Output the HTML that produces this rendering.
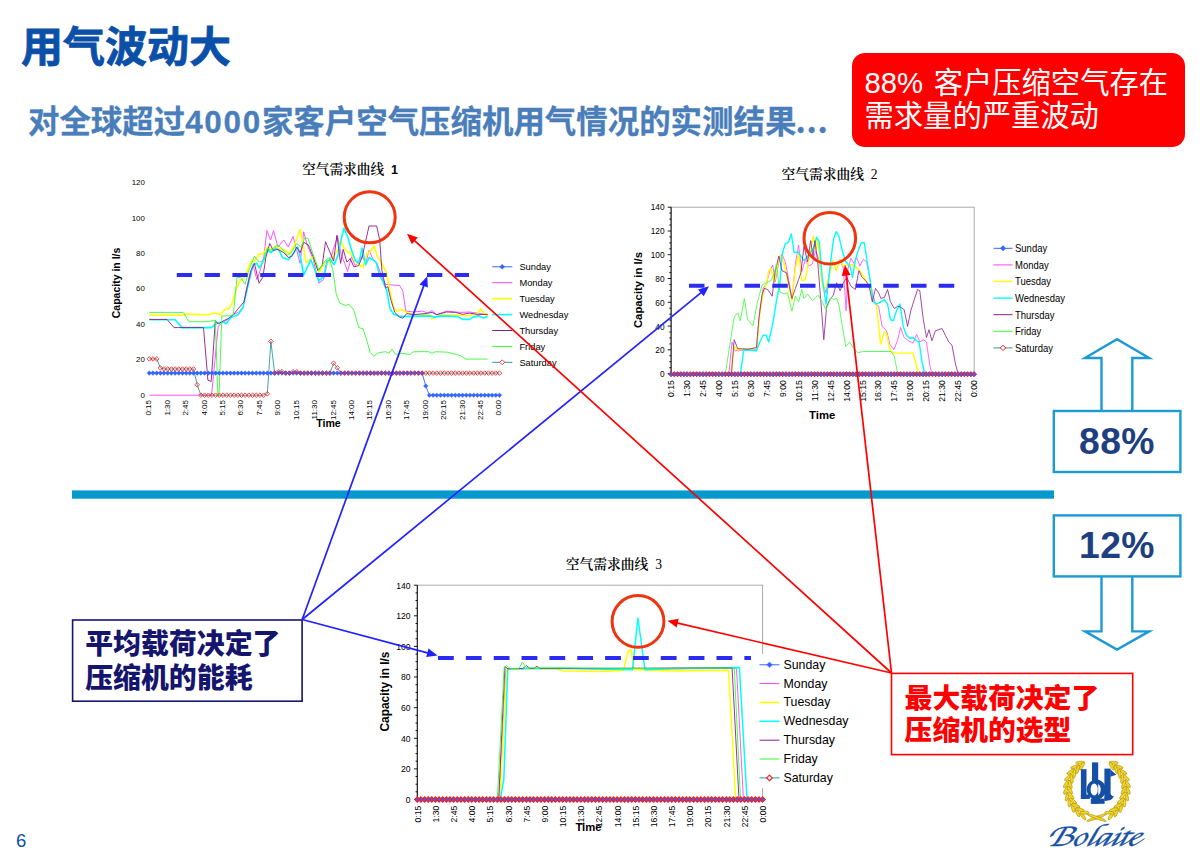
<!DOCTYPE html>
<html lang="zh"><head><meta charset="utf-8"><title>用气波动大</title>
<style>
html,body{margin:0;padding:0;background:#fff}
svg{display:block}
text{font-family:"Liberation Sans","Noto Sans CJK SC",sans-serif;fill:#000}
.cj{font-family:"Liberation Sans","Noto Sans CJK SC",sans-serif}
.sf{font-family:"Liberation Serif","Noto Serif CJK SC",serif}
.b{font-weight:bold}
</style></head><body>
<svg width="1200" height="856" viewBox="0 0 1200 856">
<rect width="1200" height="856" fill="#fff"/>
<text class="cj b" x="21" y="62.4" font-size="42" style="fill:#0B50A8;stroke:#0B50A8;stroke-width:0.8px">用气波动大</text>
<text class="cj b" x="28" y="132.8" font-size="31.45" style="fill:#4A7EBB;stroke:#4A7EBB;stroke-width:0.3px">对全球超过<tspan letter-spacing="1.7">4000</tspan>家客户空气压缩机用气情况的实测结果<tspan style="font-family:'Noto Sans CJK SC',sans-serif" letter-spacing="0.8" dx="-1">...</tspan></text>
<rect x="852" y="53" width="333" height="94" rx="13" fill="#FF0000"/>
<text class="cj" x="864.5" y="92.6" font-size="29.3" style="fill:#fff">88%<tspan dx="2.4"> </tspan>客户压缩空气存在</text>
<text class="cj" x="864.5" y="126.2" font-size="29.3" style="fill:#fff">需求量的严重波动</text>
<rect x="72" y="490.4" width="982" height="8.3" fill="#0599CE"/>
<g id="chart1">
<text class="sf" font-weight="600" x="302" y="174.2" font-size="13.7">空气需求曲线<tspan class="b" style="font-family:'Liberation Sans',sans-serif" x="387.6" font-size="12.6"> 1</tspan></text>
<text x="144.8" y="397.5" text-anchor="end" font-size="7.9">0</text>
<text x="144.8" y="362.1" text-anchor="end" font-size="7.9">20</text>
<text x="144.8" y="326.7" text-anchor="end" font-size="7.9">40</text>
<text x="144.8" y="291.3" text-anchor="end" font-size="7.9">60</text>
<text x="144.8" y="255.9" text-anchor="end" font-size="7.9">80</text>
<text x="144.8" y="220.5" text-anchor="end" font-size="7.9">100</text>
<text x="144.8" y="185.1" text-anchor="end" font-size="7.9">120</text>
<text class="b" transform="translate(119.5,283) rotate(-90)" text-anchor="middle" font-size="10.5">Capacity in l/s</text>
<text transform="translate(151.2,400) rotate(-90)" text-anchor="end" font-size="8">0:15</text>
<text transform="translate(169.6,400) rotate(-90)" text-anchor="end" font-size="8">1:30</text>
<text transform="translate(188,400) rotate(-90)" text-anchor="end" font-size="8">2:45</text>
<text transform="translate(206.5,400) rotate(-90)" text-anchor="end" font-size="8">4:00</text>
<text transform="translate(224.9,400) rotate(-90)" text-anchor="end" font-size="8">5:15</text>
<text transform="translate(243.3,400) rotate(-90)" text-anchor="end" font-size="8">6:30</text>
<text transform="translate(261.8,400) rotate(-90)" text-anchor="end" font-size="8">7:45</text>
<text transform="translate(280.2,400) rotate(-90)" text-anchor="end" font-size="8">9:00</text>
<text transform="translate(298.6,400) rotate(-90)" text-anchor="end" font-size="8">10:15</text>
<text transform="translate(317.1,400) rotate(-90)" text-anchor="end" font-size="8">11:30</text>
<text transform="translate(335.5,400) rotate(-90)" text-anchor="end" font-size="8">12:45</text>
<text transform="translate(353.9,400) rotate(-90)" text-anchor="end" font-size="8">14:00</text>
<text transform="translate(372.3,400) rotate(-90)" text-anchor="end" font-size="8">15:15</text>
<text transform="translate(390.8,400) rotate(-90)" text-anchor="end" font-size="8">16:30</text>
<text transform="translate(409.2,400) rotate(-90)" text-anchor="end" font-size="8">17:45</text>
<text transform="translate(427.6,400) rotate(-90)" text-anchor="end" font-size="8">19:00</text>
<text transform="translate(446.1,400) rotate(-90)" text-anchor="end" font-size="8">20:15</text>
<text transform="translate(464.5,400) rotate(-90)" text-anchor="end" font-size="8">21:30</text>
<text transform="translate(482.9,400) rotate(-90)" text-anchor="end" font-size="8">22:45</text>
<text transform="translate(501.4,400) rotate(-90)" text-anchor="end" font-size="8">0:00</text>
<text class="b" x="328.5" y="427" text-anchor="middle" font-size="10.6">Time</text>
<polyline points="149.3,373.1 153,373.1 156.7,373.1 160.4,373.1 164,373.1 167.7,373.1 171.4,373.1 175.1,373.1 178.8,373.1 182.5,373.1 186.2,373.1 189.8,373.1 193.5,373.1 197.2,373.1 200.9,373.1 204.6,373.1 208.3,373.1 212,373.1 215.6,373.1 219.3,373.1 223,373.1 226.7,373.1 230.4,373.1 234.1,373.1 237.8,373.1 241.5,373.1 245.1,373.1 248.8,373.1 252.5,373.1 256.2,373.1 259.9,373.1 263.6,373.1 267.3,373.1 270.9,373.1 274.6,373.1 278.3,373.1 282,373.1 285.7,373.1 289.4,373.1 293.1,373.1 296.7,373.1 300.4,373.1 304.1,373.1 307.8,373.1 311.5,373.1 315.2,373.1 318.9,373.1 322.5,373.1 326.2,373.1 329.9,373.1 333.6,373.1 337.3,373.1 341,373.1 344.7,373.1 348.3,373.1 352,373.1 355.7,373.1 359.4,373.1 363.1,373.1 366.8,373.1 370.5,373.1 374.1,373.1 377.8,373.1 381.5,373.1 385.2,373.1 388.9,373.1 392.6,373.1 396.3,373.1 399.9,373.1 403.6,373.1 407.3,373.1 411,373.1 414.7,373.1 418.4,373.1 422.1,373.1 425.8,386 429.4,395.2 433.1,395.2 436.8,395.2 440.5,395.2 444.2,395.2 447.9,395.2 451.6,395.2 455.2,395.2 458.9,395.2 462.6,395.2 466.3,395.2 470,395.2 473.7,395.2 477.4,395.2 481,395.2 484.7,395.2 488.4,395.2 492.1,395.2 495.8,395.2 499.5,395.2" fill="none" stroke="#3366FF" stroke-width="0.9" stroke-linejoin="round"/>
<polyline points="149.3,395.2 211.6,395.2 218.2,326.3 221.9,323 227.8,319.4 233.3,314.7 238.1,312.4 242.9,307.8 246.2,290.2 249.9,273.8 253.2,265.6 256.9,279.6 260.2,270.4 263.9,256.3 266.9,230.6 270.6,240 273.5,230.6 277.9,247.1 283.8,240 288.3,247.1 293.1,236.4 296.7,250.4 300.1,263.3 303.7,231.8 307.1,244.8 313,258.6 318.9,283.2 323.6,279.6 327,263.3 330.7,258.6 334,247.1 337.7,236.4 341,254 344.7,263.3 347.6,271.5 351.7,256.3 355,265.6 358.7,262.1 362,256.3 365.7,263.3 369,250.4 372.7,258.6 377.1,263.3 381.9,277.3 385.6,284.4 399.6,285.5 402.9,291.3 405.8,311.1 413.6,312 422.8,311.1 427.6,313.1 432,310.6 436.8,314.7 446.4,311.1 460.4,312.4 469.6,312 487.7,314.7" fill="none" stroke="#FF40FF" stroke-width="0.9" stroke-linejoin="round"/>
<polyline points="149.3,315.2 182.5,315.2 186.2,314.1 207.9,314.7 214.9,313.1 220.8,314.7 224.1,310.1 228.9,308.8 232.2,303.2 235.9,290.2 239.2,281.9 244,277.3 247.3,270.4 251,261.6 254.4,261 259.1,254 262.8,254 267.3,247.1 270.9,250.4 275.7,245.8 280.2,249.4 284.9,250.4 289.4,254 294.2,245.8 300.1,229.4 302.3,240 306,262.1 309.3,261 313,256.3 318.9,272.7 325.9,261 330.7,262.1 334,255.2 337.7,250.4 341,240 343.2,247.1 346.9,251.7 350.2,252.7 355,261 359.8,265.6 363.1,266.9 366.8,254 370.1,251.7 374.1,245.8 377.1,256.3 381.9,263.3 386.7,273.8 390,291.3 393.7,307.8 397,311.1 401.8,309.5 406.6,312.4 413.6,314.7 429.8,314.7 432,318.9 435.7,317.1 441.6,314.7 460.4,315.2 469.6,315.9 472.9,313.6 476.6,314.7 480.7,308.8 483.6,312.4 486.6,316.4 487.7,314.7" fill="none" stroke="#FFFF00" stroke-width="1.6" stroke-linejoin="round"/>
<polyline points="149.3,319.8 175.1,319.8 182.1,327.6 211.2,327.6 217.1,323 223,321.7 226.3,323.7 230,318.2 234.8,315.9 238.1,314.7 242.9,307.8 246.2,293.8 249.9,277.3 253.2,264.6 256.9,263.3 259.1,267.9 262.8,262.1 267.3,249.4 270.9,252.7 275.7,248.1 279,250.4 282.7,257.5 288.3,259.8 293.1,254 297.8,247.1 301.2,261 303.7,275 307.1,267.9 310.7,259.8 314.1,267.9 318.9,280.9 323.6,276.6 327,261 330.7,259.8 334,264.6 337.7,256.3 341,240 343.9,228.3 347.6,236.4 351.7,250.4 355,259.8 358.7,263.3 362,248.1 365.7,264.6 369,257.5 372.7,259.8 376,262.1 379.7,275 383,281.9 386.7,290.2 390,308.8 393.7,314.3 399.6,316.4 413.6,316.4 429.8,315.9 434.6,317.1 441.6,315.9 457.8,316.6 462.6,319.4 469.6,319.4 472.9,317.1 478.8,315.9 483.6,317.9 487.7,316.6" fill="none" stroke="#00FFFF" stroke-width="1.6" stroke-linejoin="round"/>
<polyline points="149.3,319.4 167,319.4 174,327.6 203.5,327.6 207.9,380.2 211.2,381.4 215.3,320.5 218.2,324 224.1,320.5 228.9,318.2 233.3,314.7 238.1,308.8 244,301.9 247.3,286.7 251,270.4 254.4,263.3 259.1,283.2 262.8,277.3 266.1,256.3 269.8,243.5 273.1,250.4 277.9,249.4 283.8,252.7 288.3,257.5 291.9,256.3 296.7,247.1 300.1,252.7 303.7,242.3 308.2,244.8 313,256.3 317.8,270.4 322.2,265.6 325.5,241.7 330.7,254 333.6,261 336.9,235.2 340.6,263.3 343.2,249.4 346.9,262.1 350.2,258.6 353.9,266.9 358.7,265.6 362,257.5 365.7,241 369,226 376.7,226 379.7,240 381.9,270.4 385.6,287.8 387.8,286.7 391.1,300.7 394.8,312.4 399.6,317.1 402.9,318.2 406.6,313.6 413.6,314.7 425,313.6 432,312.4 436.8,314.7 446.4,312 455.6,312.4 462.6,314.3 469.6,313.1 478.8,314.7 487.7,314.3" fill="none" stroke="#8B1C8B" stroke-width="0.9" stroke-linejoin="round"/>
<polyline points="149.3,312.4 183.2,312.4 189.1,321.7 207.9,321.7 215.3,320 217.9,395.2 219,395.2 221.9,315.9 230,315.9 233.3,314.7 237,277.3 240.7,277.3 245.1,284.4 248.8,270.4 254.4,256.3 259.1,262.1 263.9,260.7 267.3,248.3 270.9,250.4 274.6,247.1 277.9,244.8 282.7,249.4 287.2,255.4 291.9,251.8 296.7,243.5 301.2,247.1 304.8,237.7 308.2,238.7 313,254 318.9,270.4 324.8,261 329.2,257.5 332.9,270.4 336.2,293.8 339.9,303.2 345.8,305.5 349.1,304.2 353.9,310.2 358.7,327.6 363.1,328.8 366.8,340.3 370.1,352.2 373.8,356.3 377.1,353.3 381.9,352.2 385.6,351.7 388.9,353.3 391.8,349.2 395.9,354.5 401.8,353.3 409.9,354.5 413.6,351.7 428.7,351.7 432,353.3 435.7,351.7 447.5,352.2 460.4,355.6 465.9,359.1 487.7,359.1" fill="none" stroke="#33FF33" stroke-width="0.9" stroke-linejoin="round"/>
<polyline points="149.3,358.9 153,358.9 156.7,358.9 160.4,367.9 164,369 167.7,369 171.4,369 175.1,369 178.8,369 182.5,369 186.2,369 189.8,369 193.5,369 197.2,384.8 200.9,395.2 204.6,395.2 208.3,395.2 212,395.2 215.6,395.2 219.3,395.2 223,395.2 226.7,395.2 230.4,395.2 234.1,395.2 237.8,395.2 241.5,395.2 245.1,395.2 248.8,395.2 252.5,395.2 256.2,395.2 259.9,395.2 263.6,395.2 267.3,393.8 270.9,341.4 274.6,373.1 278.3,371.7 282,371.7 285.7,373.1 289.4,373.1 293.1,371.7 296.7,371.7 300.4,373.1 304.1,373.1 307.8,373.1 311.5,373.1 315.2,373.1 318.9,373.1 322.5,373.1 326.2,373.1 329.9,373.1 333.6,363.2 337.3,367.8 341,373.1 344.7,373.1 348.3,373.1 352,373.1 355.7,373.1 359.4,373.1 363.1,373.1 366.8,373.1 370.5,373.1 374.1,373.1 377.8,373.1 381.5,373.1 385.2,373.1 388.9,373.1 392.6,373.1 396.3,373.1 399.9,373.1 403.6,373.1 407.3,373.1 411,373.1 414.7,373.1 418.4,373.1 422.1,373.1 425.8,373.1 429.4,373.1 433.1,373.1 436.8,373.1 440.5,373.1 444.2,373.1 447.9,373.1 451.6,373.1 455.2,373.1 458.9,373.1 462.6,373.1 466.3,373.1 470,373.1 473.7,373.1 477.4,373.1 481,373.1 484.7,373.1 488.4,373.1 492.1,373.1 495.8,373.1 499.5,373.1" fill="none" stroke="#339999" stroke-width="0.9" stroke-linejoin="round"/>
<g><path d="M149.3 370.8l2.3 2.3l-2.3 2.3l-2.3 -2.3z" fill="#3366FF" stroke="#3366FF" stroke-width="0.4"/><path d="M153 370.8l2.3 2.3l-2.3 2.3l-2.3 -2.3z" fill="#3366FF" stroke="#3366FF" stroke-width="0.4"/><path d="M156.7 370.8l2.3 2.3l-2.3 2.3l-2.3 -2.3z" fill="#3366FF" stroke="#3366FF" stroke-width="0.4"/><path d="M160.4 370.8l2.3 2.3l-2.3 2.3l-2.3 -2.3z" fill="#3366FF" stroke="#3366FF" stroke-width="0.4"/><path d="M164 370.8l2.3 2.3l-2.3 2.3l-2.3 -2.3z" fill="#3366FF" stroke="#3366FF" stroke-width="0.4"/><path d="M167.7 370.8l2.3 2.3l-2.3 2.3l-2.3 -2.3z" fill="#3366FF" stroke="#3366FF" stroke-width="0.4"/><path d="M171.4 370.8l2.3 2.3l-2.3 2.3l-2.3 -2.3z" fill="#3366FF" stroke="#3366FF" stroke-width="0.4"/><path d="M175.1 370.8l2.3 2.3l-2.3 2.3l-2.3 -2.3z" fill="#3366FF" stroke="#3366FF" stroke-width="0.4"/><path d="M178.8 370.8l2.3 2.3l-2.3 2.3l-2.3 -2.3z" fill="#3366FF" stroke="#3366FF" stroke-width="0.4"/><path d="M182.5 370.8l2.3 2.3l-2.3 2.3l-2.3 -2.3z" fill="#3366FF" stroke="#3366FF" stroke-width="0.4"/><path d="M186.2 370.8l2.3 2.3l-2.3 2.3l-2.3 -2.3z" fill="#3366FF" stroke="#3366FF" stroke-width="0.4"/><path d="M189.8 370.8l2.3 2.3l-2.3 2.3l-2.3 -2.3z" fill="#3366FF" stroke="#3366FF" stroke-width="0.4"/><path d="M193.5 370.8l2.3 2.3l-2.3 2.3l-2.3 -2.3z" fill="#3366FF" stroke="#3366FF" stroke-width="0.4"/><path d="M197.2 370.8l2.3 2.3l-2.3 2.3l-2.3 -2.3z" fill="#3366FF" stroke="#3366FF" stroke-width="0.4"/><path d="M200.9 370.8l2.3 2.3l-2.3 2.3l-2.3 -2.3z" fill="#3366FF" stroke="#3366FF" stroke-width="0.4"/><path d="M204.6 370.8l2.3 2.3l-2.3 2.3l-2.3 -2.3z" fill="#3366FF" stroke="#3366FF" stroke-width="0.4"/><path d="M208.3 370.8l2.3 2.3l-2.3 2.3l-2.3 -2.3z" fill="#3366FF" stroke="#3366FF" stroke-width="0.4"/><path d="M212 370.8l2.3 2.3l-2.3 2.3l-2.3 -2.3z" fill="#3366FF" stroke="#3366FF" stroke-width="0.4"/><path d="M215.6 370.8l2.3 2.3l-2.3 2.3l-2.3 -2.3z" fill="#3366FF" stroke="#3366FF" stroke-width="0.4"/><path d="M219.3 370.8l2.3 2.3l-2.3 2.3l-2.3 -2.3z" fill="#3366FF" stroke="#3366FF" stroke-width="0.4"/><path d="M223 370.8l2.3 2.3l-2.3 2.3l-2.3 -2.3z" fill="#3366FF" stroke="#3366FF" stroke-width="0.4"/><path d="M226.7 370.8l2.3 2.3l-2.3 2.3l-2.3 -2.3z" fill="#3366FF" stroke="#3366FF" stroke-width="0.4"/><path d="M230.4 370.8l2.3 2.3l-2.3 2.3l-2.3 -2.3z" fill="#3366FF" stroke="#3366FF" stroke-width="0.4"/><path d="M234.1 370.8l2.3 2.3l-2.3 2.3l-2.3 -2.3z" fill="#3366FF" stroke="#3366FF" stroke-width="0.4"/><path d="M237.8 370.8l2.3 2.3l-2.3 2.3l-2.3 -2.3z" fill="#3366FF" stroke="#3366FF" stroke-width="0.4"/><path d="M241.5 370.8l2.3 2.3l-2.3 2.3l-2.3 -2.3z" fill="#3366FF" stroke="#3366FF" stroke-width="0.4"/><path d="M245.1 370.8l2.3 2.3l-2.3 2.3l-2.3 -2.3z" fill="#3366FF" stroke="#3366FF" stroke-width="0.4"/><path d="M248.8 370.8l2.3 2.3l-2.3 2.3l-2.3 -2.3z" fill="#3366FF" stroke="#3366FF" stroke-width="0.4"/><path d="M252.5 370.8l2.3 2.3l-2.3 2.3l-2.3 -2.3z" fill="#3366FF" stroke="#3366FF" stroke-width="0.4"/><path d="M256.2 370.8l2.3 2.3l-2.3 2.3l-2.3 -2.3z" fill="#3366FF" stroke="#3366FF" stroke-width="0.4"/><path d="M259.9 370.8l2.3 2.3l-2.3 2.3l-2.3 -2.3z" fill="#3366FF" stroke="#3366FF" stroke-width="0.4"/><path d="M263.6 370.8l2.3 2.3l-2.3 2.3l-2.3 -2.3z" fill="#3366FF" stroke="#3366FF" stroke-width="0.4"/><path d="M267.3 370.8l2.3 2.3l-2.3 2.3l-2.3 -2.3z" fill="#3366FF" stroke="#3366FF" stroke-width="0.4"/><path d="M270.9 370.8l2.3 2.3l-2.3 2.3l-2.3 -2.3z" fill="#3366FF" stroke="#3366FF" stroke-width="0.4"/><path d="M274.6 370.8l2.3 2.3l-2.3 2.3l-2.3 -2.3z" fill="#3366FF" stroke="#3366FF" stroke-width="0.4"/><path d="M278.3 370.8l2.3 2.3l-2.3 2.3l-2.3 -2.3z" fill="#3366FF" stroke="#3366FF" stroke-width="0.4"/><path d="M282 370.8l2.3 2.3l-2.3 2.3l-2.3 -2.3z" fill="#3366FF" stroke="#3366FF" stroke-width="0.4"/><path d="M285.7 370.8l2.3 2.3l-2.3 2.3l-2.3 -2.3z" fill="#3366FF" stroke="#3366FF" stroke-width="0.4"/><path d="M289.4 370.8l2.3 2.3l-2.3 2.3l-2.3 -2.3z" fill="#3366FF" stroke="#3366FF" stroke-width="0.4"/><path d="M293.1 370.8l2.3 2.3l-2.3 2.3l-2.3 -2.3z" fill="#3366FF" stroke="#3366FF" stroke-width="0.4"/><path d="M296.7 370.8l2.3 2.3l-2.3 2.3l-2.3 -2.3z" fill="#3366FF" stroke="#3366FF" stroke-width="0.4"/><path d="M300.4 370.8l2.3 2.3l-2.3 2.3l-2.3 -2.3z" fill="#3366FF" stroke="#3366FF" stroke-width="0.4"/><path d="M304.1 370.8l2.3 2.3l-2.3 2.3l-2.3 -2.3z" fill="#3366FF" stroke="#3366FF" stroke-width="0.4"/><path d="M307.8 370.8l2.3 2.3l-2.3 2.3l-2.3 -2.3z" fill="#3366FF" stroke="#3366FF" stroke-width="0.4"/><path d="M311.5 370.8l2.3 2.3l-2.3 2.3l-2.3 -2.3z" fill="#3366FF" stroke="#3366FF" stroke-width="0.4"/><path d="M315.2 370.8l2.3 2.3l-2.3 2.3l-2.3 -2.3z" fill="#3366FF" stroke="#3366FF" stroke-width="0.4"/><path d="M318.9 370.8l2.3 2.3l-2.3 2.3l-2.3 -2.3z" fill="#3366FF" stroke="#3366FF" stroke-width="0.4"/><path d="M322.5 370.8l2.3 2.3l-2.3 2.3l-2.3 -2.3z" fill="#3366FF" stroke="#3366FF" stroke-width="0.4"/><path d="M326.2 370.8l2.3 2.3l-2.3 2.3l-2.3 -2.3z" fill="#3366FF" stroke="#3366FF" stroke-width="0.4"/><path d="M329.9 370.8l2.3 2.3l-2.3 2.3l-2.3 -2.3z" fill="#3366FF" stroke="#3366FF" stroke-width="0.4"/><path d="M333.6 370.8l2.3 2.3l-2.3 2.3l-2.3 -2.3z" fill="#3366FF" stroke="#3366FF" stroke-width="0.4"/><path d="M337.3 370.8l2.3 2.3l-2.3 2.3l-2.3 -2.3z" fill="#3366FF" stroke="#3366FF" stroke-width="0.4"/><path d="M341 370.8l2.3 2.3l-2.3 2.3l-2.3 -2.3z" fill="#3366FF" stroke="#3366FF" stroke-width="0.4"/><path d="M344.7 370.8l2.3 2.3l-2.3 2.3l-2.3 -2.3z" fill="#3366FF" stroke="#3366FF" stroke-width="0.4"/><path d="M348.3 370.8l2.3 2.3l-2.3 2.3l-2.3 -2.3z" fill="#3366FF" stroke="#3366FF" stroke-width="0.4"/><path d="M352 370.8l2.3 2.3l-2.3 2.3l-2.3 -2.3z" fill="#3366FF" stroke="#3366FF" stroke-width="0.4"/><path d="M355.7 370.8l2.3 2.3l-2.3 2.3l-2.3 -2.3z" fill="#3366FF" stroke="#3366FF" stroke-width="0.4"/><path d="M359.4 370.8l2.3 2.3l-2.3 2.3l-2.3 -2.3z" fill="#3366FF" stroke="#3366FF" stroke-width="0.4"/><path d="M363.1 370.8l2.3 2.3l-2.3 2.3l-2.3 -2.3z" fill="#3366FF" stroke="#3366FF" stroke-width="0.4"/><path d="M366.8 370.8l2.3 2.3l-2.3 2.3l-2.3 -2.3z" fill="#3366FF" stroke="#3366FF" stroke-width="0.4"/><path d="M370.5 370.8l2.3 2.3l-2.3 2.3l-2.3 -2.3z" fill="#3366FF" stroke="#3366FF" stroke-width="0.4"/><path d="M374.1 370.8l2.3 2.3l-2.3 2.3l-2.3 -2.3z" fill="#3366FF" stroke="#3366FF" stroke-width="0.4"/><path d="M377.8 370.8l2.3 2.3l-2.3 2.3l-2.3 -2.3z" fill="#3366FF" stroke="#3366FF" stroke-width="0.4"/><path d="M381.5 370.8l2.3 2.3l-2.3 2.3l-2.3 -2.3z" fill="#3366FF" stroke="#3366FF" stroke-width="0.4"/><path d="M385.2 370.8l2.3 2.3l-2.3 2.3l-2.3 -2.3z" fill="#3366FF" stroke="#3366FF" stroke-width="0.4"/><path d="M388.9 370.8l2.3 2.3l-2.3 2.3l-2.3 -2.3z" fill="#3366FF" stroke="#3366FF" stroke-width="0.4"/><path d="M392.6 370.8l2.3 2.3l-2.3 2.3l-2.3 -2.3z" fill="#3366FF" stroke="#3366FF" stroke-width="0.4"/><path d="M396.3 370.8l2.3 2.3l-2.3 2.3l-2.3 -2.3z" fill="#3366FF" stroke="#3366FF" stroke-width="0.4"/><path d="M399.9 370.8l2.3 2.3l-2.3 2.3l-2.3 -2.3z" fill="#3366FF" stroke="#3366FF" stroke-width="0.4"/><path d="M403.6 370.8l2.3 2.3l-2.3 2.3l-2.3 -2.3z" fill="#3366FF" stroke="#3366FF" stroke-width="0.4"/><path d="M407.3 370.8l2.3 2.3l-2.3 2.3l-2.3 -2.3z" fill="#3366FF" stroke="#3366FF" stroke-width="0.4"/><path d="M411 370.8l2.3 2.3l-2.3 2.3l-2.3 -2.3z" fill="#3366FF" stroke="#3366FF" stroke-width="0.4"/><path d="M414.7 370.8l2.3 2.3l-2.3 2.3l-2.3 -2.3z" fill="#3366FF" stroke="#3366FF" stroke-width="0.4"/><path d="M418.4 370.8l2.3 2.3l-2.3 2.3l-2.3 -2.3z" fill="#3366FF" stroke="#3366FF" stroke-width="0.4"/><path d="M422.1 370.8l2.3 2.3l-2.3 2.3l-2.3 -2.3z" fill="#3366FF" stroke="#3366FF" stroke-width="0.4"/><path d="M425.8 383.7l2.3 2.3l-2.3 2.3l-2.3 -2.3z" fill="#3366FF" stroke="#3366FF" stroke-width="0.4"/><path d="M429.4 392.9l2.3 2.3l-2.3 2.3l-2.3 -2.3z" fill="#3366FF" stroke="#3366FF" stroke-width="0.4"/><path d="M433.1 392.9l2.3 2.3l-2.3 2.3l-2.3 -2.3z" fill="#3366FF" stroke="#3366FF" stroke-width="0.4"/><path d="M436.8 392.9l2.3 2.3l-2.3 2.3l-2.3 -2.3z" fill="#3366FF" stroke="#3366FF" stroke-width="0.4"/><path d="M440.5 392.9l2.3 2.3l-2.3 2.3l-2.3 -2.3z" fill="#3366FF" stroke="#3366FF" stroke-width="0.4"/><path d="M444.2 392.9l2.3 2.3l-2.3 2.3l-2.3 -2.3z" fill="#3366FF" stroke="#3366FF" stroke-width="0.4"/><path d="M447.9 392.9l2.3 2.3l-2.3 2.3l-2.3 -2.3z" fill="#3366FF" stroke="#3366FF" stroke-width="0.4"/><path d="M451.6 392.9l2.3 2.3l-2.3 2.3l-2.3 -2.3z" fill="#3366FF" stroke="#3366FF" stroke-width="0.4"/><path d="M455.2 392.9l2.3 2.3l-2.3 2.3l-2.3 -2.3z" fill="#3366FF" stroke="#3366FF" stroke-width="0.4"/><path d="M458.9 392.9l2.3 2.3l-2.3 2.3l-2.3 -2.3z" fill="#3366FF" stroke="#3366FF" stroke-width="0.4"/><path d="M462.6 392.9l2.3 2.3l-2.3 2.3l-2.3 -2.3z" fill="#3366FF" stroke="#3366FF" stroke-width="0.4"/><path d="M466.3 392.9l2.3 2.3l-2.3 2.3l-2.3 -2.3z" fill="#3366FF" stroke="#3366FF" stroke-width="0.4"/><path d="M470 392.9l2.3 2.3l-2.3 2.3l-2.3 -2.3z" fill="#3366FF" stroke="#3366FF" stroke-width="0.4"/><path d="M473.7 392.9l2.3 2.3l-2.3 2.3l-2.3 -2.3z" fill="#3366FF" stroke="#3366FF" stroke-width="0.4"/><path d="M477.4 392.9l2.3 2.3l-2.3 2.3l-2.3 -2.3z" fill="#3366FF" stroke="#3366FF" stroke-width="0.4"/><path d="M481 392.9l2.3 2.3l-2.3 2.3l-2.3 -2.3z" fill="#3366FF" stroke="#3366FF" stroke-width="0.4"/><path d="M484.7 392.9l2.3 2.3l-2.3 2.3l-2.3 -2.3z" fill="#3366FF" stroke="#3366FF" stroke-width="0.4"/><path d="M488.4 392.9l2.3 2.3l-2.3 2.3l-2.3 -2.3z" fill="#3366FF" stroke="#3366FF" stroke-width="0.4"/><path d="M492.1 392.9l2.3 2.3l-2.3 2.3l-2.3 -2.3z" fill="#3366FF" stroke="#3366FF" stroke-width="0.4"/><path d="M495.8 392.9l2.3 2.3l-2.3 2.3l-2.3 -2.3z" fill="#3366FF" stroke="#3366FF" stroke-width="0.4"/><path d="M499.5 392.9l2.3 2.3l-2.3 2.3l-2.3 -2.3z" fill="#3366FF" stroke="#3366FF" stroke-width="0.4"/></g>
<g><path d="M149.3 356.6l2.3 2.3l-2.3 2.3l-2.3 -2.3z" fill="none" stroke="#FF1818" stroke-width="0.8"/><path d="M153 356.6l2.3 2.3l-2.3 2.3l-2.3 -2.3z" fill="none" stroke="#FF1818" stroke-width="0.8"/><path d="M156.7 356.6l2.3 2.3l-2.3 2.3l-2.3 -2.3z" fill="none" stroke="#FF1818" stroke-width="0.8"/><path d="M160.4 365.6l2.3 2.3l-2.3 2.3l-2.3 -2.3z" fill="none" stroke="#FF1818" stroke-width="0.8"/><path d="M164 366.7l2.3 2.3l-2.3 2.3l-2.3 -2.3z" fill="none" stroke="#FF1818" stroke-width="0.8"/><path d="M167.7 366.7l2.3 2.3l-2.3 2.3l-2.3 -2.3z" fill="none" stroke="#FF1818" stroke-width="0.8"/><path d="M171.4 366.7l2.3 2.3l-2.3 2.3l-2.3 -2.3z" fill="none" stroke="#FF1818" stroke-width="0.8"/><path d="M175.1 366.7l2.3 2.3l-2.3 2.3l-2.3 -2.3z" fill="none" stroke="#FF1818" stroke-width="0.8"/><path d="M178.8 366.7l2.3 2.3l-2.3 2.3l-2.3 -2.3z" fill="none" stroke="#FF1818" stroke-width="0.8"/><path d="M182.5 366.7l2.3 2.3l-2.3 2.3l-2.3 -2.3z" fill="none" stroke="#FF1818" stroke-width="0.8"/><path d="M186.2 366.7l2.3 2.3l-2.3 2.3l-2.3 -2.3z" fill="none" stroke="#FF1818" stroke-width="0.8"/><path d="M189.8 366.7l2.3 2.3l-2.3 2.3l-2.3 -2.3z" fill="none" stroke="#FF1818" stroke-width="0.8"/><path d="M193.5 366.7l2.3 2.3l-2.3 2.3l-2.3 -2.3z" fill="none" stroke="#FF1818" stroke-width="0.8"/><path d="M197.2 382.5l2.3 2.3l-2.3 2.3l-2.3 -2.3z" fill="none" stroke="#FF1818" stroke-width="0.8"/><path d="M200.9 392.9l2.3 2.3l-2.3 2.3l-2.3 -2.3z" fill="none" stroke="#FF1818" stroke-width="0.8"/><path d="M204.6 392.9l2.3 2.3l-2.3 2.3l-2.3 -2.3z" fill="none" stroke="#FF1818" stroke-width="0.8"/><path d="M208.3 392.9l2.3 2.3l-2.3 2.3l-2.3 -2.3z" fill="none" stroke="#FF1818" stroke-width="0.8"/><path d="M212 392.9l2.3 2.3l-2.3 2.3l-2.3 -2.3z" fill="none" stroke="#FF1818" stroke-width="0.8"/><path d="M215.6 392.9l2.3 2.3l-2.3 2.3l-2.3 -2.3z" fill="none" stroke="#FF1818" stroke-width="0.8"/><path d="M219.3 392.9l2.3 2.3l-2.3 2.3l-2.3 -2.3z" fill="none" stroke="#FF1818" stroke-width="0.8"/><path d="M223 392.9l2.3 2.3l-2.3 2.3l-2.3 -2.3z" fill="none" stroke="#FF1818" stroke-width="0.8"/><path d="M226.7 392.9l2.3 2.3l-2.3 2.3l-2.3 -2.3z" fill="none" stroke="#FF1818" stroke-width="0.8"/><path d="M230.4 392.9l2.3 2.3l-2.3 2.3l-2.3 -2.3z" fill="none" stroke="#FF1818" stroke-width="0.8"/><path d="M234.1 392.9l2.3 2.3l-2.3 2.3l-2.3 -2.3z" fill="none" stroke="#FF1818" stroke-width="0.8"/><path d="M237.8 392.9l2.3 2.3l-2.3 2.3l-2.3 -2.3z" fill="none" stroke="#FF1818" stroke-width="0.8"/><path d="M241.5 392.9l2.3 2.3l-2.3 2.3l-2.3 -2.3z" fill="none" stroke="#FF1818" stroke-width="0.8"/><path d="M245.1 392.9l2.3 2.3l-2.3 2.3l-2.3 -2.3z" fill="none" stroke="#FF1818" stroke-width="0.8"/><path d="M248.8 392.9l2.3 2.3l-2.3 2.3l-2.3 -2.3z" fill="none" stroke="#FF1818" stroke-width="0.8"/><path d="M252.5 392.9l2.3 2.3l-2.3 2.3l-2.3 -2.3z" fill="none" stroke="#FF1818" stroke-width="0.8"/><path d="M256.2 392.9l2.3 2.3l-2.3 2.3l-2.3 -2.3z" fill="none" stroke="#FF1818" stroke-width="0.8"/><path d="M259.9 392.9l2.3 2.3l-2.3 2.3l-2.3 -2.3z" fill="none" stroke="#FF1818" stroke-width="0.8"/><path d="M263.6 392.9l2.3 2.3l-2.3 2.3l-2.3 -2.3z" fill="none" stroke="#FF1818" stroke-width="0.8"/><path d="M267.3 391.5l2.3 2.3l-2.3 2.3l-2.3 -2.3z" fill="none" stroke="#FF1818" stroke-width="0.8"/><path d="M270.9 339.1l2.3 2.3l-2.3 2.3l-2.3 -2.3z" fill="none" stroke="#FF1818" stroke-width="0.8"/><path d="M274.6 370.8l2.3 2.3l-2.3 2.3l-2.3 -2.3z" fill="none" stroke="#FF1818" stroke-width="0.8"/><path d="M278.3 369.4l2.3 2.3l-2.3 2.3l-2.3 -2.3z" fill="none" stroke="#FF1818" stroke-width="0.8"/><path d="M282 369.4l2.3 2.3l-2.3 2.3l-2.3 -2.3z" fill="none" stroke="#FF1818" stroke-width="0.8"/><path d="M285.7 370.8l2.3 2.3l-2.3 2.3l-2.3 -2.3z" fill="none" stroke="#FF1818" stroke-width="0.8"/><path d="M289.4 370.8l2.3 2.3l-2.3 2.3l-2.3 -2.3z" fill="none" stroke="#FF1818" stroke-width="0.8"/><path d="M293.1 369.4l2.3 2.3l-2.3 2.3l-2.3 -2.3z" fill="none" stroke="#FF1818" stroke-width="0.8"/><path d="M296.7 369.4l2.3 2.3l-2.3 2.3l-2.3 -2.3z" fill="none" stroke="#FF1818" stroke-width="0.8"/><path d="M300.4 370.8l2.3 2.3l-2.3 2.3l-2.3 -2.3z" fill="none" stroke="#FF1818" stroke-width="0.8"/><path d="M304.1 370.8l2.3 2.3l-2.3 2.3l-2.3 -2.3z" fill="none" stroke="#FF1818" stroke-width="0.8"/><path d="M307.8 370.8l2.3 2.3l-2.3 2.3l-2.3 -2.3z" fill="none" stroke="#FF1818" stroke-width="0.8"/><path d="M311.5 370.8l2.3 2.3l-2.3 2.3l-2.3 -2.3z" fill="none" stroke="#FF1818" stroke-width="0.8"/><path d="M315.2 370.8l2.3 2.3l-2.3 2.3l-2.3 -2.3z" fill="none" stroke="#FF1818" stroke-width="0.8"/><path d="M318.9 370.8l2.3 2.3l-2.3 2.3l-2.3 -2.3z" fill="none" stroke="#FF1818" stroke-width="0.8"/><path d="M322.5 370.8l2.3 2.3l-2.3 2.3l-2.3 -2.3z" fill="none" stroke="#FF1818" stroke-width="0.8"/><path d="M326.2 370.8l2.3 2.3l-2.3 2.3l-2.3 -2.3z" fill="none" stroke="#FF1818" stroke-width="0.8"/><path d="M329.9 370.8l2.3 2.3l-2.3 2.3l-2.3 -2.3z" fill="none" stroke="#FF1818" stroke-width="0.8"/><path d="M333.6 360.9l2.3 2.3l-2.3 2.3l-2.3 -2.3z" fill="none" stroke="#FF1818" stroke-width="0.8"/><path d="M337.3 365.5l2.3 2.3l-2.3 2.3l-2.3 -2.3z" fill="none" stroke="#FF1818" stroke-width="0.8"/><path d="M341 370.8l2.3 2.3l-2.3 2.3l-2.3 -2.3z" fill="none" stroke="#FF1818" stroke-width="0.8"/><path d="M344.7 370.8l2.3 2.3l-2.3 2.3l-2.3 -2.3z" fill="none" stroke="#FF1818" stroke-width="0.8"/><path d="M348.3 370.8l2.3 2.3l-2.3 2.3l-2.3 -2.3z" fill="none" stroke="#FF1818" stroke-width="0.8"/><path d="M352 370.8l2.3 2.3l-2.3 2.3l-2.3 -2.3z" fill="none" stroke="#FF1818" stroke-width="0.8"/><path d="M355.7 370.8l2.3 2.3l-2.3 2.3l-2.3 -2.3z" fill="none" stroke="#FF1818" stroke-width="0.8"/><path d="M359.4 370.8l2.3 2.3l-2.3 2.3l-2.3 -2.3z" fill="none" stroke="#FF1818" stroke-width="0.8"/><path d="M363.1 370.8l2.3 2.3l-2.3 2.3l-2.3 -2.3z" fill="none" stroke="#FF1818" stroke-width="0.8"/><path d="M366.8 370.8l2.3 2.3l-2.3 2.3l-2.3 -2.3z" fill="none" stroke="#FF1818" stroke-width="0.8"/><path d="M370.5 370.8l2.3 2.3l-2.3 2.3l-2.3 -2.3z" fill="none" stroke="#FF1818" stroke-width="0.8"/><path d="M374.1 370.8l2.3 2.3l-2.3 2.3l-2.3 -2.3z" fill="none" stroke="#FF1818" stroke-width="0.8"/><path d="M377.8 370.8l2.3 2.3l-2.3 2.3l-2.3 -2.3z" fill="none" stroke="#FF1818" stroke-width="0.8"/><path d="M381.5 370.8l2.3 2.3l-2.3 2.3l-2.3 -2.3z" fill="none" stroke="#FF1818" stroke-width="0.8"/><path d="M385.2 370.8l2.3 2.3l-2.3 2.3l-2.3 -2.3z" fill="none" stroke="#FF1818" stroke-width="0.8"/><path d="M388.9 370.8l2.3 2.3l-2.3 2.3l-2.3 -2.3z" fill="none" stroke="#FF1818" stroke-width="0.8"/><path d="M392.6 370.8l2.3 2.3l-2.3 2.3l-2.3 -2.3z" fill="none" stroke="#FF1818" stroke-width="0.8"/><path d="M396.3 370.8l2.3 2.3l-2.3 2.3l-2.3 -2.3z" fill="none" stroke="#FF1818" stroke-width="0.8"/><path d="M399.9 370.8l2.3 2.3l-2.3 2.3l-2.3 -2.3z" fill="none" stroke="#FF1818" stroke-width="0.8"/><path d="M403.6 370.8l2.3 2.3l-2.3 2.3l-2.3 -2.3z" fill="none" stroke="#FF1818" stroke-width="0.8"/><path d="M407.3 370.8l2.3 2.3l-2.3 2.3l-2.3 -2.3z" fill="none" stroke="#FF1818" stroke-width="0.8"/><path d="M411 370.8l2.3 2.3l-2.3 2.3l-2.3 -2.3z" fill="none" stroke="#FF1818" stroke-width="0.8"/><path d="M414.7 370.8l2.3 2.3l-2.3 2.3l-2.3 -2.3z" fill="none" stroke="#FF1818" stroke-width="0.8"/><path d="M418.4 370.8l2.3 2.3l-2.3 2.3l-2.3 -2.3z" fill="none" stroke="#FF1818" stroke-width="0.8"/><path d="M422.1 370.8l2.3 2.3l-2.3 2.3l-2.3 -2.3z" fill="none" stroke="#FF1818" stroke-width="0.8"/><path d="M425.8 370.8l2.3 2.3l-2.3 2.3l-2.3 -2.3z" fill="none" stroke="#FF1818" stroke-width="0.8"/><path d="M429.4 370.8l2.3 2.3l-2.3 2.3l-2.3 -2.3z" fill="none" stroke="#FF1818" stroke-width="0.8"/><path d="M433.1 370.8l2.3 2.3l-2.3 2.3l-2.3 -2.3z" fill="none" stroke="#FF1818" stroke-width="0.8"/><path d="M436.8 370.8l2.3 2.3l-2.3 2.3l-2.3 -2.3z" fill="none" stroke="#FF1818" stroke-width="0.8"/><path d="M440.5 370.8l2.3 2.3l-2.3 2.3l-2.3 -2.3z" fill="none" stroke="#FF1818" stroke-width="0.8"/><path d="M444.2 370.8l2.3 2.3l-2.3 2.3l-2.3 -2.3z" fill="none" stroke="#FF1818" stroke-width="0.8"/><path d="M447.9 370.8l2.3 2.3l-2.3 2.3l-2.3 -2.3z" fill="none" stroke="#FF1818" stroke-width="0.8"/><path d="M451.6 370.8l2.3 2.3l-2.3 2.3l-2.3 -2.3z" fill="none" stroke="#FF1818" stroke-width="0.8"/><path d="M455.2 370.8l2.3 2.3l-2.3 2.3l-2.3 -2.3z" fill="none" stroke="#FF1818" stroke-width="0.8"/><path d="M458.9 370.8l2.3 2.3l-2.3 2.3l-2.3 -2.3z" fill="none" stroke="#FF1818" stroke-width="0.8"/><path d="M462.6 370.8l2.3 2.3l-2.3 2.3l-2.3 -2.3z" fill="none" stroke="#FF1818" stroke-width="0.8"/><path d="M466.3 370.8l2.3 2.3l-2.3 2.3l-2.3 -2.3z" fill="none" stroke="#FF1818" stroke-width="0.8"/><path d="M470 370.8l2.3 2.3l-2.3 2.3l-2.3 -2.3z" fill="none" stroke="#FF1818" stroke-width="0.8"/><path d="M473.7 370.8l2.3 2.3l-2.3 2.3l-2.3 -2.3z" fill="none" stroke="#FF1818" stroke-width="0.8"/><path d="M477.4 370.8l2.3 2.3l-2.3 2.3l-2.3 -2.3z" fill="none" stroke="#FF1818" stroke-width="0.8"/><path d="M481 370.8l2.3 2.3l-2.3 2.3l-2.3 -2.3z" fill="none" stroke="#FF1818" stroke-width="0.8"/><path d="M484.7 370.8l2.3 2.3l-2.3 2.3l-2.3 -2.3z" fill="none" stroke="#FF1818" stroke-width="0.8"/><path d="M488.4 370.8l2.3 2.3l-2.3 2.3l-2.3 -2.3z" fill="none" stroke="#FF1818" stroke-width="0.8"/><path d="M492.1 370.8l2.3 2.3l-2.3 2.3l-2.3 -2.3z" fill="none" stroke="#FF1818" stroke-width="0.8"/><path d="M495.8 370.8l2.3 2.3l-2.3 2.3l-2.3 -2.3z" fill="none" stroke="#FF1818" stroke-width="0.8"/><path d="M499.5 370.8l2.3 2.3l-2.3 2.3l-2.3 -2.3z" fill="none" stroke="#FF1818" stroke-width="0.8"/></g>
<line x1="492.2" y1="266.8" x2="512.3" y2="266.8" stroke="#3366FF" stroke-width="1"/>
<path d="M502.2 264.3l2.5 2.5l-2.5 2.5l-2.5 -2.5z" fill="#3366FF" stroke="#3366FF" stroke-width="0.4"/>
<text x="519.4" y="270.1" font-size="9.3">Sunday</text>
<line x1="492.2" y1="282.7" x2="512.3" y2="282.7" stroke="#FF40FF" stroke-width="1"/>
<text x="519.4" y="286.1" font-size="9.3">Monday</text>
<line x1="492.2" y1="298.6" x2="512.3" y2="298.6" stroke="#FFFF00" stroke-width="1.6"/>
<text x="519.4" y="302" font-size="9.3">Tuesday</text>
<line x1="492.2" y1="314.6" x2="512.3" y2="314.6" stroke="#00FFFF" stroke-width="1.6"/>
<text x="519.4" y="317.9" font-size="9.3">Wednesday</text>
<line x1="492.2" y1="330.5" x2="512.3" y2="330.5" stroke="#8B1C8B" stroke-width="1"/>
<text x="519.4" y="333.8" font-size="9.3">Thursday</text>
<line x1="492.2" y1="346.4" x2="512.3" y2="346.4" stroke="#33FF33" stroke-width="1"/>
<text x="519.4" y="349.7" font-size="9.3">Friday</text>
<line x1="492.2" y1="362.3" x2="512.3" y2="362.3" stroke="#339999" stroke-width="1"/>
<path d="M502.2 359.8l2.5 2.5l-2.5 2.5l-2.5 -2.5z" fill="#fff" stroke="#FF1818" stroke-width="0.8"/>
<text x="519.4" y="365.7" font-size="9.3">Saturday</text>
<line x1="176.8" y1="275.1" x2="469" y2="275.1" stroke="#2B2BF2" stroke-width="4" stroke-dasharray="15.3 12.5"/>
<circle cx="369.7" cy="217.3" r="25.5" fill="none" stroke="#F0340F" stroke-width="3"/>
</g>
<g id="chart2">
<text class="sf" font-weight="600" x="781.4" y="178.9" font-size="13.75">空气需求曲线<tspan font-weight="500" x="867.4" font-size="13.6"> 2</tspan></text>
<rect x="671.1" y="207.2" width="303.1" height="166.4" fill="#fff" stroke="#A8A8A8" stroke-width="1"/>
<path d="M667.7 373.6h3.4M669.3 367.7h1.8M669.3 361.7h1.8M669.3 355.8h1.8M667.7 349.8h3.4M669.3 343.9h1.8M669.3 337.9h1.8M669.3 332h1.8M667.7 326.1h3.4M669.3 320.1h1.8M669.3 314.2h1.8M669.3 308.2h1.8M667.7 302.3h3.4M669.3 296.3h1.8M669.3 290.4h1.8M669.3 284.5h1.8M667.7 278.5h3.4M669.3 272.6h1.8M669.3 266.6h1.8M669.3 260.7h1.8M667.7 254.7h3.4M669.3 248.8h1.8M669.3 242.9h1.8M669.3 236.9h1.8M667.7 231h3.4M669.3 225h1.8M669.3 219.1h1.8M669.3 213.1h1.8M667.7 207.2h3.4" stroke="#000" stroke-width="0.9" fill="none"/>
<path d="M671.1 207.2V373.6H974.2" stroke="#000" stroke-width="0.95" fill="none"/>
<text x="664.5" y="377.2" text-anchor="end" font-size="8.3">0</text>
<text x="664.5" y="353.4" text-anchor="end" font-size="8.3">20</text>
<text x="664.5" y="329.5" text-anchor="end" font-size="8.3">40</text>
<text x="664.5" y="305.7" text-anchor="end" font-size="8.3">60</text>
<text x="664.5" y="281.9" text-anchor="end" font-size="8.3">80</text>
<text x="664.5" y="258" text-anchor="end" font-size="8.3">100</text>
<text x="664.5" y="234.2" text-anchor="end" font-size="8.3">120</text>
<text x="664.5" y="210.4" text-anchor="end" font-size="8.3">140</text>
<text class="b" transform="translate(641.5,290) rotate(-90) scale(1.09,1)" text-anchor="middle" font-size="10.4">Capacity in l/s</text>
<text transform="translate(674.2,380.3) rotate(-90)" text-anchor="end" font-size="8.6">0:15</text>
<text transform="translate(690.1,380.3) rotate(-90)" text-anchor="end" font-size="8.6">1:30</text>
<text transform="translate(706.1,380.3) rotate(-90)" text-anchor="end" font-size="8.6">2:45</text>
<text transform="translate(722,380.3) rotate(-90)" text-anchor="end" font-size="8.6">4:00</text>
<text transform="translate(738,380.3) rotate(-90)" text-anchor="end" font-size="8.6">5:15</text>
<text transform="translate(753.9,380.3) rotate(-90)" text-anchor="end" font-size="8.6">6:30</text>
<text transform="translate(769.8,380.3) rotate(-90)" text-anchor="end" font-size="8.6">7:45</text>
<text transform="translate(785.8,380.3) rotate(-90)" text-anchor="end" font-size="8.6">9:00</text>
<text transform="translate(801.7,380.3) rotate(-90)" text-anchor="end" font-size="8.6">10:15</text>
<text transform="translate(817.7,380.3) rotate(-90)" text-anchor="end" font-size="8.6">11:30</text>
<text transform="translate(833.6,380.3) rotate(-90)" text-anchor="end" font-size="8.6">12:45</text>
<text transform="translate(849.5,380.3) rotate(-90)" text-anchor="end" font-size="8.6">14:00</text>
<text transform="translate(865.5,380.3) rotate(-90)" text-anchor="end" font-size="8.6">15:15</text>
<text transform="translate(881.4,380.3) rotate(-90)" text-anchor="end" font-size="8.6">16:30</text>
<text transform="translate(897.4,380.3) rotate(-90)" text-anchor="end" font-size="8.6">17:45</text>
<text transform="translate(913.3,380.3) rotate(-90)" text-anchor="end" font-size="8.6">19:00</text>
<text transform="translate(929.2,380.3) rotate(-90)" text-anchor="end" font-size="8.6">20:15</text>
<text transform="translate(945.2,380.3) rotate(-90)" text-anchor="end" font-size="8.6">21:30</text>
<text transform="translate(961.1,380.3) rotate(-90)" text-anchor="end" font-size="8.6">22:45</text>
<text transform="translate(977.1,380.3) rotate(-90)" text-anchor="end" font-size="8.6">0:00</text>
<text class="b" x="822.2" y="418.6" text-anchor="middle" font-size="11.3">Time</text>
<polyline points="671.1,374.2 674.3,374.2 677.5,374.2 680.7,374.2 683.9,374.2 687,374.2 690.2,374.2 693.4,374.2 696.6,374.2 699.8,374.2 703,374.2 706.2,374.2 709.4,374.2 712.5,374.2 715.7,374.2 718.9,374.2 722.1,374.2 725.3,374.2 728.5,374.2 731.7,374.2 734.9,374.2 738,374.2 741.2,374.2 744.4,374.2 747.6,374.2 750.8,374.2 754,374.2 757.2,374.2 760.4,374.2 763.6,374.2 766.7,374.2 769.9,374.2 773.1,374.2 776.3,374.2 779.5,374.2 782.7,374.2 785.9,374.2 789.1,374.2 792.2,374.2 795.4,374.2 798.6,374.2 801.8,374.2 805,374.2 808.2,374.2 811.4,374.2 814.6,374.2 817.7,374.2 820.9,374.2 824.1,374.2 827.3,374.2 830.5,374.2 833.7,374.2 836.9,374.2 840.1,374.2 843.3,374.2 846.4,374.2 849.6,374.2 852.8,374.2 856,374.2 859.2,374.2 862.4,374.2 865.6,374.2 868.8,374.2 871.9,374.2 875.1,374.2 878.3,374.2 881.5,374.2 884.7,374.2 887.9,374.2 891.1,374.2 894.3,374.2 897.4,374.2 900.6,374.2 903.8,374.2 907,374.2 910.2,374.2 913.4,374.2 916.6,374.2 919.8,374.2 923,374.2 926.1,374.2 929.3,374.2 932.5,374.2 935.7,374.2 938.9,374.2 942.1,374.2 945.3,374.2 948.5,374.2 951.6,374.2 954.8,374.2 958,374.2 961.2,374.2 964.4,374.2 967.6,374.2 970.8,374.2 974,374.2" fill="none" stroke="#3366FF" stroke-width="0.8" stroke-linejoin="round"/>
<polyline points="671.1,374.2 728.8,374.2 732,342 734.9,350.8 756.5,349.7 759.7,310.7 763.2,288.4 766.4,284 769.9,270.7 772.8,265.1 775.3,281.8 778.9,261.7 782,254 785.2,261.7 788.7,279.5 791.9,299.5 795.4,264 798.6,245 801.8,271.7 805.3,259.4 808.5,266.1 812.3,264 815.5,250.6 819,259.4 822.2,281.8 826,292.8 829.9,270.7 833.4,261.7 836.6,264 840.1,259.4 843.3,268.4 846.1,310.7 848,268.4 850.9,258.4 854.4,264 856.6,257.3 859.8,266.1 863.3,259.4 866.5,261.7 868.8,272.8 872.3,292.8 875.5,304.1 878.6,306.2 882.1,326.4 886.6,330.8 889.8,344.1 893.9,349.7 897.8,339.7 900.6,327.4 904.1,337.5 908.6,340.8 913.1,343.1 916.6,334.1 919.8,342 923.3,339.7 926.5,342 929.6,364.2 931.9,374.2 974,374.2" fill="none" stroke="#FF40FF" stroke-width="0.8" stroke-linejoin="round"/>
<polyline points="671.1,374.2 731,374.2 734.2,346.4 737.7,349.7 756.5,348.2 759.7,315.2 763.2,292.8 766.4,284 768.7,270.7 770.9,268.4 774.4,281.8 777.6,264 780.8,255 784.3,264 787.5,280.7 791.9,300.7 795.4,268.4 798.6,254 801.8,280.7 805.3,279.5 808.5,261.7 813.3,236.1 815.8,250.6 818.1,239.4 821.3,277.3 823.8,290.7 826.7,284 829.9,272.8 832.7,260.6 836.2,270.7 840.1,259.4 843.3,266.1 847.7,265.1 852.2,264.5 856.6,267.3 861.1,272.8 865.6,279.5 870,288.4 873.2,301.8 876.4,305.1 880.6,344.1 884.4,331.9 886.6,334.1 889.5,348.6 893.3,353.1 913.1,353.1 915.3,361.9 918.8,374.2 974,374.2" fill="none" stroke="#FFFF00" stroke-width="1.4" stroke-linejoin="round"/>
<polyline points="671.1,374.2 740.3,374.2 743.8,349.7 756.5,350.8 759.7,342 763.2,335.2 766.1,335.2 768.7,342 773.1,321.8 776.3,301.8 779.8,284 782,255 785.2,243.9 788.1,242.7 791.3,233.9 794.2,252.8 797.7,251.7 800.9,256.1 804,260.6 807.5,256.1 812.6,250.1 816.8,237.3 819.3,241.8 822.2,277.3 826,304.1 829.9,268.4 833.4,239.4 836.2,231.7 838.8,236.1 842.9,252.8 845.8,261.7 849.9,266.1 852.5,277.3 855.4,259.4 858.9,248.4 861.4,242.7 864.3,242.7 866.5,257.3 870,279.5 873.2,301.8 876.4,304.1 880.9,301.8 884.4,299.5 887.6,304.1 890.4,319.6 893.3,320.8 896.5,310.7 900,304.1 903.2,326.4 906.4,335.2 909.9,338.5 913.1,337.5 916.6,340.8 919.1,342 922,361.9 924.9,374.2 974,374.2" fill="none" stroke="#00FFFF" stroke-width="1.4" stroke-linejoin="round"/>
<polyline points="671.1,374.2 731.4,374.2 734.2,339.7 737.7,348.6 748.9,349.1 756.5,347.5 758.8,319.6 762,295.1 764.2,288.4 767.7,289.5 772.2,296.2 775.3,270.7 778.9,256.1 782,270.7 786.5,272.8 791.9,298.5 795.4,288.4 798.6,279.5 800.9,272.8 804,246.1 807.5,261.7 810.7,240.6 813,257.3 814.9,240.6 817.7,261.7 820.9,301.8 823.8,339.7 826.7,306.2 829.9,299.5 833.4,295.1 836.6,282.8 840.1,290.7 843.3,282.8 846.8,277.3 850.9,286.2 855.4,289.5 858.9,270.7 862.1,277.3 865.6,280.7 868.8,285.1 872.3,301.8 875.5,288.4 878.6,292.8 880.9,298.5 884.4,297.4 887.6,289.5 890.4,301.8 894.3,308.5 897.8,306.2 901,307.4 904.1,309.5 907.6,326.4 910.8,310.7 914.3,299.5 917.5,289.5 919.8,290.7 923.3,319.6 926.5,337.5 929,329.7 931.9,340.8 935.4,330.8 942.1,328.5 945.3,335.2 948.8,342 952,345.2 955.5,364.2 958.3,374.2 974,374.2" fill="none" stroke="#8B1C8B" stroke-width="0.8" stroke-linejoin="round"/>
<polyline points="671.1,374.2 725.3,374.2 734.2,316.9 737.7,312.9 740.3,320.8 744.4,298.5 747.6,319.6 753,325.9 757.5,301.8 762,285.1 766.4,282.8 770.9,280.7 774.4,272.8 776.3,264 779.8,291.9 784.3,294 787.5,292.8 791.9,311.2 795.4,296.2 798.6,301.8 801.8,289.5 804,298.5 807.5,294 812.6,300.7 818.1,295.1 822.5,302.6 826,309.8 831.1,297.4 833.4,299.5 836.6,298.5 838.8,304.1 842.3,326.4 845.8,346.4 849.6,342 853.1,347.5 857.6,352.6 863.3,351.5 891.1,351.5 894.3,356.3 897.8,374.2 974,374.2" fill="none" stroke="#33FF33" stroke-width="0.8" stroke-linejoin="round"/>
<polyline points="671.1,374.2 674.3,374.2 677.5,374.2 680.7,374.2 683.9,374.2 687,374.2 690.2,374.2 693.4,374.2 696.6,374.2 699.8,374.2 703,374.2 706.2,374.2 709.4,374.2 712.5,374.2 715.7,374.2 718.9,374.2 722.1,374.2 725.3,374.2 728.5,374.2 731.7,374.2 734.9,374.2 738,374.2 741.2,374.2 744.4,374.2 747.6,374.2 750.8,374.2 754,374.2 757.2,374.2 760.4,374.2 763.6,374.2 766.7,374.2 769.9,374.2 773.1,374.2 776.3,374.2 779.5,374.2 782.7,374.2 785.9,374.2 789.1,374.2 792.2,374.2 795.4,374.2 798.6,374.2 801.8,374.2 805,374.2 808.2,374.2 811.4,374.2 814.6,374.2 817.7,374.2 820.9,374.2 824.1,374.2 827.3,374.2 830.5,374.2 833.7,374.2 836.9,374.2 840.1,374.2 843.3,374.2 846.4,374.2 849.6,374.2 852.8,374.2 856,374.2 859.2,374.2 862.4,374.2 865.6,374.2 868.8,374.2 871.9,374.2 875.1,374.2 878.3,374.2 881.5,374.2 884.7,374.2 887.9,374.2 891.1,374.2 894.3,374.2 897.4,374.2 900.6,374.2 903.8,374.2 907,374.2 910.2,374.2 913.4,374.2 916.6,374.2 919.8,374.2 923,374.2 926.1,374.2 929.3,374.2 932.5,374.2 935.7,374.2 938.9,374.2 942.1,374.2 945.3,374.2 948.5,374.2 951.6,374.2 954.8,374.2 958,374.2 961.2,374.2 964.4,374.2 967.6,374.2 970.8,374.2 974,374.2" fill="none" stroke="#339999" stroke-width="0.8" stroke-linejoin="round"/>
<g><path d="M671.1 371.7l2.5 2.5l-2.5 2.5l-2.5 -2.5z" fill="#3366FF" stroke="#3366FF" stroke-width="0.4"/><path d="M674.3 371.7l2.5 2.5l-2.5 2.5l-2.5 -2.5z" fill="#3366FF" stroke="#3366FF" stroke-width="0.4"/><path d="M677.5 371.7l2.5 2.5l-2.5 2.5l-2.5 -2.5z" fill="#3366FF" stroke="#3366FF" stroke-width="0.4"/><path d="M680.7 371.7l2.5 2.5l-2.5 2.5l-2.5 -2.5z" fill="#3366FF" stroke="#3366FF" stroke-width="0.4"/><path d="M683.9 371.7l2.5 2.5l-2.5 2.5l-2.5 -2.5z" fill="#3366FF" stroke="#3366FF" stroke-width="0.4"/><path d="M687 371.7l2.5 2.5l-2.5 2.5l-2.5 -2.5z" fill="#3366FF" stroke="#3366FF" stroke-width="0.4"/><path d="M690.2 371.7l2.5 2.5l-2.5 2.5l-2.5 -2.5z" fill="#3366FF" stroke="#3366FF" stroke-width="0.4"/><path d="M693.4 371.7l2.5 2.5l-2.5 2.5l-2.5 -2.5z" fill="#3366FF" stroke="#3366FF" stroke-width="0.4"/><path d="M696.6 371.7l2.5 2.5l-2.5 2.5l-2.5 -2.5z" fill="#3366FF" stroke="#3366FF" stroke-width="0.4"/><path d="M699.8 371.7l2.5 2.5l-2.5 2.5l-2.5 -2.5z" fill="#3366FF" stroke="#3366FF" stroke-width="0.4"/><path d="M703 371.7l2.5 2.5l-2.5 2.5l-2.5 -2.5z" fill="#3366FF" stroke="#3366FF" stroke-width="0.4"/><path d="M706.2 371.7l2.5 2.5l-2.5 2.5l-2.5 -2.5z" fill="#3366FF" stroke="#3366FF" stroke-width="0.4"/><path d="M709.4 371.7l2.5 2.5l-2.5 2.5l-2.5 -2.5z" fill="#3366FF" stroke="#3366FF" stroke-width="0.4"/><path d="M712.5 371.7l2.5 2.5l-2.5 2.5l-2.5 -2.5z" fill="#3366FF" stroke="#3366FF" stroke-width="0.4"/><path d="M715.7 371.7l2.5 2.5l-2.5 2.5l-2.5 -2.5z" fill="#3366FF" stroke="#3366FF" stroke-width="0.4"/><path d="M718.9 371.7l2.5 2.5l-2.5 2.5l-2.5 -2.5z" fill="#3366FF" stroke="#3366FF" stroke-width="0.4"/><path d="M722.1 371.7l2.5 2.5l-2.5 2.5l-2.5 -2.5z" fill="#3366FF" stroke="#3366FF" stroke-width="0.4"/><path d="M725.3 371.7l2.5 2.5l-2.5 2.5l-2.5 -2.5z" fill="#3366FF" stroke="#3366FF" stroke-width="0.4"/><path d="M728.5 371.7l2.5 2.5l-2.5 2.5l-2.5 -2.5z" fill="#3366FF" stroke="#3366FF" stroke-width="0.4"/><path d="M731.7 371.7l2.5 2.5l-2.5 2.5l-2.5 -2.5z" fill="#3366FF" stroke="#3366FF" stroke-width="0.4"/><path d="M734.9 371.7l2.5 2.5l-2.5 2.5l-2.5 -2.5z" fill="#3366FF" stroke="#3366FF" stroke-width="0.4"/><path d="M738 371.7l2.5 2.5l-2.5 2.5l-2.5 -2.5z" fill="#3366FF" stroke="#3366FF" stroke-width="0.4"/><path d="M741.2 371.7l2.5 2.5l-2.5 2.5l-2.5 -2.5z" fill="#3366FF" stroke="#3366FF" stroke-width="0.4"/><path d="M744.4 371.7l2.5 2.5l-2.5 2.5l-2.5 -2.5z" fill="#3366FF" stroke="#3366FF" stroke-width="0.4"/><path d="M747.6 371.7l2.5 2.5l-2.5 2.5l-2.5 -2.5z" fill="#3366FF" stroke="#3366FF" stroke-width="0.4"/><path d="M750.8 371.7l2.5 2.5l-2.5 2.5l-2.5 -2.5z" fill="#3366FF" stroke="#3366FF" stroke-width="0.4"/><path d="M754 371.7l2.5 2.5l-2.5 2.5l-2.5 -2.5z" fill="#3366FF" stroke="#3366FF" stroke-width="0.4"/><path d="M757.2 371.7l2.5 2.5l-2.5 2.5l-2.5 -2.5z" fill="#3366FF" stroke="#3366FF" stroke-width="0.4"/><path d="M760.4 371.7l2.5 2.5l-2.5 2.5l-2.5 -2.5z" fill="#3366FF" stroke="#3366FF" stroke-width="0.4"/><path d="M763.6 371.7l2.5 2.5l-2.5 2.5l-2.5 -2.5z" fill="#3366FF" stroke="#3366FF" stroke-width="0.4"/><path d="M766.7 371.7l2.5 2.5l-2.5 2.5l-2.5 -2.5z" fill="#3366FF" stroke="#3366FF" stroke-width="0.4"/><path d="M769.9 371.7l2.5 2.5l-2.5 2.5l-2.5 -2.5z" fill="#3366FF" stroke="#3366FF" stroke-width="0.4"/><path d="M773.1 371.7l2.5 2.5l-2.5 2.5l-2.5 -2.5z" fill="#3366FF" stroke="#3366FF" stroke-width="0.4"/><path d="M776.3 371.7l2.5 2.5l-2.5 2.5l-2.5 -2.5z" fill="#3366FF" stroke="#3366FF" stroke-width="0.4"/><path d="M779.5 371.7l2.5 2.5l-2.5 2.5l-2.5 -2.5z" fill="#3366FF" stroke="#3366FF" stroke-width="0.4"/><path d="M782.7 371.7l2.5 2.5l-2.5 2.5l-2.5 -2.5z" fill="#3366FF" stroke="#3366FF" stroke-width="0.4"/><path d="M785.9 371.7l2.5 2.5l-2.5 2.5l-2.5 -2.5z" fill="#3366FF" stroke="#3366FF" stroke-width="0.4"/><path d="M789.1 371.7l2.5 2.5l-2.5 2.5l-2.5 -2.5z" fill="#3366FF" stroke="#3366FF" stroke-width="0.4"/><path d="M792.2 371.7l2.5 2.5l-2.5 2.5l-2.5 -2.5z" fill="#3366FF" stroke="#3366FF" stroke-width="0.4"/><path d="M795.4 371.7l2.5 2.5l-2.5 2.5l-2.5 -2.5z" fill="#3366FF" stroke="#3366FF" stroke-width="0.4"/><path d="M798.6 371.7l2.5 2.5l-2.5 2.5l-2.5 -2.5z" fill="#3366FF" stroke="#3366FF" stroke-width="0.4"/><path d="M801.8 371.7l2.5 2.5l-2.5 2.5l-2.5 -2.5z" fill="#3366FF" stroke="#3366FF" stroke-width="0.4"/><path d="M805 371.7l2.5 2.5l-2.5 2.5l-2.5 -2.5z" fill="#3366FF" stroke="#3366FF" stroke-width="0.4"/><path d="M808.2 371.7l2.5 2.5l-2.5 2.5l-2.5 -2.5z" fill="#3366FF" stroke="#3366FF" stroke-width="0.4"/><path d="M811.4 371.7l2.5 2.5l-2.5 2.5l-2.5 -2.5z" fill="#3366FF" stroke="#3366FF" stroke-width="0.4"/><path d="M814.6 371.7l2.5 2.5l-2.5 2.5l-2.5 -2.5z" fill="#3366FF" stroke="#3366FF" stroke-width="0.4"/><path d="M817.7 371.7l2.5 2.5l-2.5 2.5l-2.5 -2.5z" fill="#3366FF" stroke="#3366FF" stroke-width="0.4"/><path d="M820.9 371.7l2.5 2.5l-2.5 2.5l-2.5 -2.5z" fill="#3366FF" stroke="#3366FF" stroke-width="0.4"/><path d="M824.1 371.7l2.5 2.5l-2.5 2.5l-2.5 -2.5z" fill="#3366FF" stroke="#3366FF" stroke-width="0.4"/><path d="M827.3 371.7l2.5 2.5l-2.5 2.5l-2.5 -2.5z" fill="#3366FF" stroke="#3366FF" stroke-width="0.4"/><path d="M830.5 371.7l2.5 2.5l-2.5 2.5l-2.5 -2.5z" fill="#3366FF" stroke="#3366FF" stroke-width="0.4"/><path d="M833.7 371.7l2.5 2.5l-2.5 2.5l-2.5 -2.5z" fill="#3366FF" stroke="#3366FF" stroke-width="0.4"/><path d="M836.9 371.7l2.5 2.5l-2.5 2.5l-2.5 -2.5z" fill="#3366FF" stroke="#3366FF" stroke-width="0.4"/><path d="M840.1 371.7l2.5 2.5l-2.5 2.5l-2.5 -2.5z" fill="#3366FF" stroke="#3366FF" stroke-width="0.4"/><path d="M843.3 371.7l2.5 2.5l-2.5 2.5l-2.5 -2.5z" fill="#3366FF" stroke="#3366FF" stroke-width="0.4"/><path d="M846.4 371.7l2.5 2.5l-2.5 2.5l-2.5 -2.5z" fill="#3366FF" stroke="#3366FF" stroke-width="0.4"/><path d="M849.6 371.7l2.5 2.5l-2.5 2.5l-2.5 -2.5z" fill="#3366FF" stroke="#3366FF" stroke-width="0.4"/><path d="M852.8 371.7l2.5 2.5l-2.5 2.5l-2.5 -2.5z" fill="#3366FF" stroke="#3366FF" stroke-width="0.4"/><path d="M856 371.7l2.5 2.5l-2.5 2.5l-2.5 -2.5z" fill="#3366FF" stroke="#3366FF" stroke-width="0.4"/><path d="M859.2 371.7l2.5 2.5l-2.5 2.5l-2.5 -2.5z" fill="#3366FF" stroke="#3366FF" stroke-width="0.4"/><path d="M862.4 371.7l2.5 2.5l-2.5 2.5l-2.5 -2.5z" fill="#3366FF" stroke="#3366FF" stroke-width="0.4"/><path d="M865.6 371.7l2.5 2.5l-2.5 2.5l-2.5 -2.5z" fill="#3366FF" stroke="#3366FF" stroke-width="0.4"/><path d="M868.8 371.7l2.5 2.5l-2.5 2.5l-2.5 -2.5z" fill="#3366FF" stroke="#3366FF" stroke-width="0.4"/><path d="M871.9 371.7l2.5 2.5l-2.5 2.5l-2.5 -2.5z" fill="#3366FF" stroke="#3366FF" stroke-width="0.4"/><path d="M875.1 371.7l2.5 2.5l-2.5 2.5l-2.5 -2.5z" fill="#3366FF" stroke="#3366FF" stroke-width="0.4"/><path d="M878.3 371.7l2.5 2.5l-2.5 2.5l-2.5 -2.5z" fill="#3366FF" stroke="#3366FF" stroke-width="0.4"/><path d="M881.5 371.7l2.5 2.5l-2.5 2.5l-2.5 -2.5z" fill="#3366FF" stroke="#3366FF" stroke-width="0.4"/><path d="M884.7 371.7l2.5 2.5l-2.5 2.5l-2.5 -2.5z" fill="#3366FF" stroke="#3366FF" stroke-width="0.4"/><path d="M887.9 371.7l2.5 2.5l-2.5 2.5l-2.5 -2.5z" fill="#3366FF" stroke="#3366FF" stroke-width="0.4"/><path d="M891.1 371.7l2.5 2.5l-2.5 2.5l-2.5 -2.5z" fill="#3366FF" stroke="#3366FF" stroke-width="0.4"/><path d="M894.3 371.7l2.5 2.5l-2.5 2.5l-2.5 -2.5z" fill="#3366FF" stroke="#3366FF" stroke-width="0.4"/><path d="M897.4 371.7l2.5 2.5l-2.5 2.5l-2.5 -2.5z" fill="#3366FF" stroke="#3366FF" stroke-width="0.4"/><path d="M900.6 371.7l2.5 2.5l-2.5 2.5l-2.5 -2.5z" fill="#3366FF" stroke="#3366FF" stroke-width="0.4"/><path d="M903.8 371.7l2.5 2.5l-2.5 2.5l-2.5 -2.5z" fill="#3366FF" stroke="#3366FF" stroke-width="0.4"/><path d="M907 371.7l2.5 2.5l-2.5 2.5l-2.5 -2.5z" fill="#3366FF" stroke="#3366FF" stroke-width="0.4"/><path d="M910.2 371.7l2.5 2.5l-2.5 2.5l-2.5 -2.5z" fill="#3366FF" stroke="#3366FF" stroke-width="0.4"/><path d="M913.4 371.7l2.5 2.5l-2.5 2.5l-2.5 -2.5z" fill="#3366FF" stroke="#3366FF" stroke-width="0.4"/><path d="M916.6 371.7l2.5 2.5l-2.5 2.5l-2.5 -2.5z" fill="#3366FF" stroke="#3366FF" stroke-width="0.4"/><path d="M919.8 371.7l2.5 2.5l-2.5 2.5l-2.5 -2.5z" fill="#3366FF" stroke="#3366FF" stroke-width="0.4"/><path d="M923 371.7l2.5 2.5l-2.5 2.5l-2.5 -2.5z" fill="#3366FF" stroke="#3366FF" stroke-width="0.4"/><path d="M926.1 371.7l2.5 2.5l-2.5 2.5l-2.5 -2.5z" fill="#3366FF" stroke="#3366FF" stroke-width="0.4"/><path d="M929.3 371.7l2.5 2.5l-2.5 2.5l-2.5 -2.5z" fill="#3366FF" stroke="#3366FF" stroke-width="0.4"/><path d="M932.5 371.7l2.5 2.5l-2.5 2.5l-2.5 -2.5z" fill="#3366FF" stroke="#3366FF" stroke-width="0.4"/><path d="M935.7 371.7l2.5 2.5l-2.5 2.5l-2.5 -2.5z" fill="#3366FF" stroke="#3366FF" stroke-width="0.4"/><path d="M938.9 371.7l2.5 2.5l-2.5 2.5l-2.5 -2.5z" fill="#3366FF" stroke="#3366FF" stroke-width="0.4"/><path d="M942.1 371.7l2.5 2.5l-2.5 2.5l-2.5 -2.5z" fill="#3366FF" stroke="#3366FF" stroke-width="0.4"/><path d="M945.3 371.7l2.5 2.5l-2.5 2.5l-2.5 -2.5z" fill="#3366FF" stroke="#3366FF" stroke-width="0.4"/><path d="M948.5 371.7l2.5 2.5l-2.5 2.5l-2.5 -2.5z" fill="#3366FF" stroke="#3366FF" stroke-width="0.4"/><path d="M951.6 371.7l2.5 2.5l-2.5 2.5l-2.5 -2.5z" fill="#3366FF" stroke="#3366FF" stroke-width="0.4"/><path d="M954.8 371.7l2.5 2.5l-2.5 2.5l-2.5 -2.5z" fill="#3366FF" stroke="#3366FF" stroke-width="0.4"/><path d="M958 371.7l2.5 2.5l-2.5 2.5l-2.5 -2.5z" fill="#3366FF" stroke="#3366FF" stroke-width="0.4"/><path d="M961.2 371.7l2.5 2.5l-2.5 2.5l-2.5 -2.5z" fill="#3366FF" stroke="#3366FF" stroke-width="0.4"/><path d="M964.4 371.7l2.5 2.5l-2.5 2.5l-2.5 -2.5z" fill="#3366FF" stroke="#3366FF" stroke-width="0.4"/><path d="M967.6 371.7l2.5 2.5l-2.5 2.5l-2.5 -2.5z" fill="#3366FF" stroke="#3366FF" stroke-width="0.4"/><path d="M970.8 371.7l2.5 2.5l-2.5 2.5l-2.5 -2.5z" fill="#3366FF" stroke="#3366FF" stroke-width="0.4"/><path d="M974 371.7l2.5 2.5l-2.5 2.5l-2.5 -2.5z" fill="#3366FF" stroke="#3366FF" stroke-width="0.4"/></g>
<g><path d="M671.1 371.7l2.5 2.5l-2.5 2.5l-2.5 -2.5z" fill="none" stroke="#FF1818" stroke-width="1.0"/><path d="M674.3 371.7l2.5 2.5l-2.5 2.5l-2.5 -2.5z" fill="none" stroke="#FF1818" stroke-width="1.0"/><path d="M677.5 371.7l2.5 2.5l-2.5 2.5l-2.5 -2.5z" fill="none" stroke="#FF1818" stroke-width="1.0"/><path d="M680.7 371.7l2.5 2.5l-2.5 2.5l-2.5 -2.5z" fill="none" stroke="#FF1818" stroke-width="1.0"/><path d="M683.9 371.7l2.5 2.5l-2.5 2.5l-2.5 -2.5z" fill="none" stroke="#FF1818" stroke-width="1.0"/><path d="M687 371.7l2.5 2.5l-2.5 2.5l-2.5 -2.5z" fill="none" stroke="#FF1818" stroke-width="1.0"/><path d="M690.2 371.7l2.5 2.5l-2.5 2.5l-2.5 -2.5z" fill="none" stroke="#FF1818" stroke-width="1.0"/><path d="M693.4 371.7l2.5 2.5l-2.5 2.5l-2.5 -2.5z" fill="none" stroke="#FF1818" stroke-width="1.0"/><path d="M696.6 371.7l2.5 2.5l-2.5 2.5l-2.5 -2.5z" fill="none" stroke="#FF1818" stroke-width="1.0"/><path d="M699.8 371.7l2.5 2.5l-2.5 2.5l-2.5 -2.5z" fill="none" stroke="#FF1818" stroke-width="1.0"/><path d="M703 371.7l2.5 2.5l-2.5 2.5l-2.5 -2.5z" fill="none" stroke="#FF1818" stroke-width="1.0"/><path d="M706.2 371.7l2.5 2.5l-2.5 2.5l-2.5 -2.5z" fill="none" stroke="#FF1818" stroke-width="1.0"/><path d="M709.4 371.7l2.5 2.5l-2.5 2.5l-2.5 -2.5z" fill="none" stroke="#FF1818" stroke-width="1.0"/><path d="M712.5 371.7l2.5 2.5l-2.5 2.5l-2.5 -2.5z" fill="none" stroke="#FF1818" stroke-width="1.0"/><path d="M715.7 371.7l2.5 2.5l-2.5 2.5l-2.5 -2.5z" fill="none" stroke="#FF1818" stroke-width="1.0"/><path d="M718.9 371.7l2.5 2.5l-2.5 2.5l-2.5 -2.5z" fill="none" stroke="#FF1818" stroke-width="1.0"/><path d="M722.1 371.7l2.5 2.5l-2.5 2.5l-2.5 -2.5z" fill="none" stroke="#FF1818" stroke-width="1.0"/><path d="M725.3 371.7l2.5 2.5l-2.5 2.5l-2.5 -2.5z" fill="none" stroke="#FF1818" stroke-width="1.0"/><path d="M728.5 371.7l2.5 2.5l-2.5 2.5l-2.5 -2.5z" fill="none" stroke="#FF1818" stroke-width="1.0"/><path d="M731.7 371.7l2.5 2.5l-2.5 2.5l-2.5 -2.5z" fill="none" stroke="#FF1818" stroke-width="1.0"/><path d="M734.9 371.7l2.5 2.5l-2.5 2.5l-2.5 -2.5z" fill="none" stroke="#FF1818" stroke-width="1.0"/><path d="M738 371.7l2.5 2.5l-2.5 2.5l-2.5 -2.5z" fill="none" stroke="#FF1818" stroke-width="1.0"/><path d="M741.2 371.7l2.5 2.5l-2.5 2.5l-2.5 -2.5z" fill="none" stroke="#FF1818" stroke-width="1.0"/><path d="M744.4 371.7l2.5 2.5l-2.5 2.5l-2.5 -2.5z" fill="none" stroke="#FF1818" stroke-width="1.0"/><path d="M747.6 371.7l2.5 2.5l-2.5 2.5l-2.5 -2.5z" fill="none" stroke="#FF1818" stroke-width="1.0"/><path d="M750.8 371.7l2.5 2.5l-2.5 2.5l-2.5 -2.5z" fill="none" stroke="#FF1818" stroke-width="1.0"/><path d="M754 371.7l2.5 2.5l-2.5 2.5l-2.5 -2.5z" fill="none" stroke="#FF1818" stroke-width="1.0"/><path d="M757.2 371.7l2.5 2.5l-2.5 2.5l-2.5 -2.5z" fill="none" stroke="#FF1818" stroke-width="1.0"/><path d="M760.4 371.7l2.5 2.5l-2.5 2.5l-2.5 -2.5z" fill="none" stroke="#FF1818" stroke-width="1.0"/><path d="M763.6 371.7l2.5 2.5l-2.5 2.5l-2.5 -2.5z" fill="none" stroke="#FF1818" stroke-width="1.0"/><path d="M766.7 371.7l2.5 2.5l-2.5 2.5l-2.5 -2.5z" fill="none" stroke="#FF1818" stroke-width="1.0"/><path d="M769.9 371.7l2.5 2.5l-2.5 2.5l-2.5 -2.5z" fill="none" stroke="#FF1818" stroke-width="1.0"/><path d="M773.1 371.7l2.5 2.5l-2.5 2.5l-2.5 -2.5z" fill="none" stroke="#FF1818" stroke-width="1.0"/><path d="M776.3 371.7l2.5 2.5l-2.5 2.5l-2.5 -2.5z" fill="none" stroke="#FF1818" stroke-width="1.0"/><path d="M779.5 371.7l2.5 2.5l-2.5 2.5l-2.5 -2.5z" fill="none" stroke="#FF1818" stroke-width="1.0"/><path d="M782.7 371.7l2.5 2.5l-2.5 2.5l-2.5 -2.5z" fill="none" stroke="#FF1818" stroke-width="1.0"/><path d="M785.9 371.7l2.5 2.5l-2.5 2.5l-2.5 -2.5z" fill="none" stroke="#FF1818" stroke-width="1.0"/><path d="M789.1 371.7l2.5 2.5l-2.5 2.5l-2.5 -2.5z" fill="none" stroke="#FF1818" stroke-width="1.0"/><path d="M792.2 371.7l2.5 2.5l-2.5 2.5l-2.5 -2.5z" fill="none" stroke="#FF1818" stroke-width="1.0"/><path d="M795.4 371.7l2.5 2.5l-2.5 2.5l-2.5 -2.5z" fill="none" stroke="#FF1818" stroke-width="1.0"/><path d="M798.6 371.7l2.5 2.5l-2.5 2.5l-2.5 -2.5z" fill="none" stroke="#FF1818" stroke-width="1.0"/><path d="M801.8 371.7l2.5 2.5l-2.5 2.5l-2.5 -2.5z" fill="none" stroke="#FF1818" stroke-width="1.0"/><path d="M805 371.7l2.5 2.5l-2.5 2.5l-2.5 -2.5z" fill="none" stroke="#FF1818" stroke-width="1.0"/><path d="M808.2 371.7l2.5 2.5l-2.5 2.5l-2.5 -2.5z" fill="none" stroke="#FF1818" stroke-width="1.0"/><path d="M811.4 371.7l2.5 2.5l-2.5 2.5l-2.5 -2.5z" fill="none" stroke="#FF1818" stroke-width="1.0"/><path d="M814.6 371.7l2.5 2.5l-2.5 2.5l-2.5 -2.5z" fill="none" stroke="#FF1818" stroke-width="1.0"/><path d="M817.7 371.7l2.5 2.5l-2.5 2.5l-2.5 -2.5z" fill="none" stroke="#FF1818" stroke-width="1.0"/><path d="M820.9 371.7l2.5 2.5l-2.5 2.5l-2.5 -2.5z" fill="none" stroke="#FF1818" stroke-width="1.0"/><path d="M824.1 371.7l2.5 2.5l-2.5 2.5l-2.5 -2.5z" fill="none" stroke="#FF1818" stroke-width="1.0"/><path d="M827.3 371.7l2.5 2.5l-2.5 2.5l-2.5 -2.5z" fill="none" stroke="#FF1818" stroke-width="1.0"/><path d="M830.5 371.7l2.5 2.5l-2.5 2.5l-2.5 -2.5z" fill="none" stroke="#FF1818" stroke-width="1.0"/><path d="M833.7 371.7l2.5 2.5l-2.5 2.5l-2.5 -2.5z" fill="none" stroke="#FF1818" stroke-width="1.0"/><path d="M836.9 371.7l2.5 2.5l-2.5 2.5l-2.5 -2.5z" fill="none" stroke="#FF1818" stroke-width="1.0"/><path d="M840.1 371.7l2.5 2.5l-2.5 2.5l-2.5 -2.5z" fill="none" stroke="#FF1818" stroke-width="1.0"/><path d="M843.3 371.7l2.5 2.5l-2.5 2.5l-2.5 -2.5z" fill="none" stroke="#FF1818" stroke-width="1.0"/><path d="M846.4 371.7l2.5 2.5l-2.5 2.5l-2.5 -2.5z" fill="none" stroke="#FF1818" stroke-width="1.0"/><path d="M849.6 371.7l2.5 2.5l-2.5 2.5l-2.5 -2.5z" fill="none" stroke="#FF1818" stroke-width="1.0"/><path d="M852.8 371.7l2.5 2.5l-2.5 2.5l-2.5 -2.5z" fill="none" stroke="#FF1818" stroke-width="1.0"/><path d="M856 371.7l2.5 2.5l-2.5 2.5l-2.5 -2.5z" fill="none" stroke="#FF1818" stroke-width="1.0"/><path d="M859.2 371.7l2.5 2.5l-2.5 2.5l-2.5 -2.5z" fill="none" stroke="#FF1818" stroke-width="1.0"/><path d="M862.4 371.7l2.5 2.5l-2.5 2.5l-2.5 -2.5z" fill="none" stroke="#FF1818" stroke-width="1.0"/><path d="M865.6 371.7l2.5 2.5l-2.5 2.5l-2.5 -2.5z" fill="none" stroke="#FF1818" stroke-width="1.0"/><path d="M868.8 371.7l2.5 2.5l-2.5 2.5l-2.5 -2.5z" fill="none" stroke="#FF1818" stroke-width="1.0"/><path d="M871.9 371.7l2.5 2.5l-2.5 2.5l-2.5 -2.5z" fill="none" stroke="#FF1818" stroke-width="1.0"/><path d="M875.1 371.7l2.5 2.5l-2.5 2.5l-2.5 -2.5z" fill="none" stroke="#FF1818" stroke-width="1.0"/><path d="M878.3 371.7l2.5 2.5l-2.5 2.5l-2.5 -2.5z" fill="none" stroke="#FF1818" stroke-width="1.0"/><path d="M881.5 371.7l2.5 2.5l-2.5 2.5l-2.5 -2.5z" fill="none" stroke="#FF1818" stroke-width="1.0"/><path d="M884.7 371.7l2.5 2.5l-2.5 2.5l-2.5 -2.5z" fill="none" stroke="#FF1818" stroke-width="1.0"/><path d="M887.9 371.7l2.5 2.5l-2.5 2.5l-2.5 -2.5z" fill="none" stroke="#FF1818" stroke-width="1.0"/><path d="M891.1 371.7l2.5 2.5l-2.5 2.5l-2.5 -2.5z" fill="none" stroke="#FF1818" stroke-width="1.0"/><path d="M894.3 371.7l2.5 2.5l-2.5 2.5l-2.5 -2.5z" fill="none" stroke="#FF1818" stroke-width="1.0"/><path d="M897.4 371.7l2.5 2.5l-2.5 2.5l-2.5 -2.5z" fill="none" stroke="#FF1818" stroke-width="1.0"/><path d="M900.6 371.7l2.5 2.5l-2.5 2.5l-2.5 -2.5z" fill="none" stroke="#FF1818" stroke-width="1.0"/><path d="M903.8 371.7l2.5 2.5l-2.5 2.5l-2.5 -2.5z" fill="none" stroke="#FF1818" stroke-width="1.0"/><path d="M907 371.7l2.5 2.5l-2.5 2.5l-2.5 -2.5z" fill="none" stroke="#FF1818" stroke-width="1.0"/><path d="M910.2 371.7l2.5 2.5l-2.5 2.5l-2.5 -2.5z" fill="none" stroke="#FF1818" stroke-width="1.0"/><path d="M913.4 371.7l2.5 2.5l-2.5 2.5l-2.5 -2.5z" fill="none" stroke="#FF1818" stroke-width="1.0"/><path d="M916.6 371.7l2.5 2.5l-2.5 2.5l-2.5 -2.5z" fill="none" stroke="#FF1818" stroke-width="1.0"/><path d="M919.8 371.7l2.5 2.5l-2.5 2.5l-2.5 -2.5z" fill="none" stroke="#FF1818" stroke-width="1.0"/><path d="M923 371.7l2.5 2.5l-2.5 2.5l-2.5 -2.5z" fill="none" stroke="#FF1818" stroke-width="1.0"/><path d="M926.1 371.7l2.5 2.5l-2.5 2.5l-2.5 -2.5z" fill="none" stroke="#FF1818" stroke-width="1.0"/><path d="M929.3 371.7l2.5 2.5l-2.5 2.5l-2.5 -2.5z" fill="none" stroke="#FF1818" stroke-width="1.0"/><path d="M932.5 371.7l2.5 2.5l-2.5 2.5l-2.5 -2.5z" fill="none" stroke="#FF1818" stroke-width="1.0"/><path d="M935.7 371.7l2.5 2.5l-2.5 2.5l-2.5 -2.5z" fill="none" stroke="#FF1818" stroke-width="1.0"/><path d="M938.9 371.7l2.5 2.5l-2.5 2.5l-2.5 -2.5z" fill="none" stroke="#FF1818" stroke-width="1.0"/><path d="M942.1 371.7l2.5 2.5l-2.5 2.5l-2.5 -2.5z" fill="none" stroke="#FF1818" stroke-width="1.0"/><path d="M945.3 371.7l2.5 2.5l-2.5 2.5l-2.5 -2.5z" fill="none" stroke="#FF1818" stroke-width="1.0"/><path d="M948.5 371.7l2.5 2.5l-2.5 2.5l-2.5 -2.5z" fill="none" stroke="#FF1818" stroke-width="1.0"/><path d="M951.6 371.7l2.5 2.5l-2.5 2.5l-2.5 -2.5z" fill="none" stroke="#FF1818" stroke-width="1.0"/><path d="M954.8 371.7l2.5 2.5l-2.5 2.5l-2.5 -2.5z" fill="none" stroke="#FF1818" stroke-width="1.0"/><path d="M958 371.7l2.5 2.5l-2.5 2.5l-2.5 -2.5z" fill="none" stroke="#FF1818" stroke-width="1.0"/><path d="M961.2 371.7l2.5 2.5l-2.5 2.5l-2.5 -2.5z" fill="none" stroke="#FF1818" stroke-width="1.0"/><path d="M964.4 371.7l2.5 2.5l-2.5 2.5l-2.5 -2.5z" fill="none" stroke="#FF1818" stroke-width="1.0"/><path d="M967.6 371.7l2.5 2.5l-2.5 2.5l-2.5 -2.5z" fill="none" stroke="#FF1818" stroke-width="1.0"/><path d="M970.8 371.7l2.5 2.5l-2.5 2.5l-2.5 -2.5z" fill="none" stroke="#FF1818" stroke-width="1.0"/><path d="M974 371.7l2.5 2.5l-2.5 2.5l-2.5 -2.5z" fill="none" stroke="#FF1818" stroke-width="1.0"/></g>
<g fill="#2F6BFF"><ellipse cx="671.1" cy="374.2" rx="0.75" ry="1.35"/><ellipse cx="674.3" cy="374.2" rx="0.75" ry="1.35"/><ellipse cx="677.5" cy="374.2" rx="0.75" ry="1.35"/><ellipse cx="680.7" cy="374.2" rx="0.75" ry="1.35"/><ellipse cx="683.9" cy="374.2" rx="0.75" ry="1.35"/><ellipse cx="687" cy="374.2" rx="0.75" ry="1.35"/><ellipse cx="690.2" cy="374.2" rx="0.75" ry="1.35"/><ellipse cx="693.4" cy="374.2" rx="0.75" ry="1.35"/><ellipse cx="696.6" cy="374.2" rx="0.75" ry="1.35"/><ellipse cx="699.8" cy="374.2" rx="0.75" ry="1.35"/><ellipse cx="703" cy="374.2" rx="0.75" ry="1.35"/><ellipse cx="706.2" cy="374.2" rx="0.75" ry="1.35"/><ellipse cx="709.4" cy="374.2" rx="0.75" ry="1.35"/><ellipse cx="712.5" cy="374.2" rx="0.75" ry="1.35"/><ellipse cx="715.7" cy="374.2" rx="0.75" ry="1.35"/><ellipse cx="718.9" cy="374.2" rx="0.75" ry="1.35"/><ellipse cx="722.1" cy="374.2" rx="0.75" ry="1.35"/><ellipse cx="725.3" cy="374.2" rx="0.75" ry="1.35"/><ellipse cx="728.5" cy="374.2" rx="0.75" ry="1.35"/><ellipse cx="731.7" cy="374.2" rx="0.75" ry="1.35"/><ellipse cx="734.9" cy="374.2" rx="0.75" ry="1.35"/><ellipse cx="738" cy="374.2" rx="0.75" ry="1.35"/><ellipse cx="741.2" cy="374.2" rx="0.75" ry="1.35"/><ellipse cx="744.4" cy="374.2" rx="0.75" ry="1.35"/><ellipse cx="747.6" cy="374.2" rx="0.75" ry="1.35"/><ellipse cx="750.8" cy="374.2" rx="0.75" ry="1.35"/><ellipse cx="754" cy="374.2" rx="0.75" ry="1.35"/><ellipse cx="757.2" cy="374.2" rx="0.75" ry="1.35"/><ellipse cx="760.4" cy="374.2" rx="0.75" ry="1.35"/><ellipse cx="763.6" cy="374.2" rx="0.75" ry="1.35"/><ellipse cx="766.7" cy="374.2" rx="0.75" ry="1.35"/><ellipse cx="769.9" cy="374.2" rx="0.75" ry="1.35"/><ellipse cx="773.1" cy="374.2" rx="0.75" ry="1.35"/><ellipse cx="776.3" cy="374.2" rx="0.75" ry="1.35"/><ellipse cx="779.5" cy="374.2" rx="0.75" ry="1.35"/><ellipse cx="782.7" cy="374.2" rx="0.75" ry="1.35"/><ellipse cx="785.9" cy="374.2" rx="0.75" ry="1.35"/><ellipse cx="789.1" cy="374.2" rx="0.75" ry="1.35"/><ellipse cx="792.2" cy="374.2" rx="0.75" ry="1.35"/><ellipse cx="795.4" cy="374.2" rx="0.75" ry="1.35"/><ellipse cx="798.6" cy="374.2" rx="0.75" ry="1.35"/><ellipse cx="801.8" cy="374.2" rx="0.75" ry="1.35"/><ellipse cx="805" cy="374.2" rx="0.75" ry="1.35"/><ellipse cx="808.2" cy="374.2" rx="0.75" ry="1.35"/><ellipse cx="811.4" cy="374.2" rx="0.75" ry="1.35"/><ellipse cx="814.6" cy="374.2" rx="0.75" ry="1.35"/><ellipse cx="817.7" cy="374.2" rx="0.75" ry="1.35"/><ellipse cx="820.9" cy="374.2" rx="0.75" ry="1.35"/><ellipse cx="824.1" cy="374.2" rx="0.75" ry="1.35"/><ellipse cx="827.3" cy="374.2" rx="0.75" ry="1.35"/><ellipse cx="830.5" cy="374.2" rx="0.75" ry="1.35"/><ellipse cx="833.7" cy="374.2" rx="0.75" ry="1.35"/><ellipse cx="836.9" cy="374.2" rx="0.75" ry="1.35"/><ellipse cx="840.1" cy="374.2" rx="0.75" ry="1.35"/><ellipse cx="843.3" cy="374.2" rx="0.75" ry="1.35"/><ellipse cx="846.4" cy="374.2" rx="0.75" ry="1.35"/><ellipse cx="849.6" cy="374.2" rx="0.75" ry="1.35"/><ellipse cx="852.8" cy="374.2" rx="0.75" ry="1.35"/><ellipse cx="856" cy="374.2" rx="0.75" ry="1.35"/><ellipse cx="859.2" cy="374.2" rx="0.75" ry="1.35"/><ellipse cx="862.4" cy="374.2" rx="0.75" ry="1.35"/><ellipse cx="865.6" cy="374.2" rx="0.75" ry="1.35"/><ellipse cx="868.8" cy="374.2" rx="0.75" ry="1.35"/><ellipse cx="871.9" cy="374.2" rx="0.75" ry="1.35"/><ellipse cx="875.1" cy="374.2" rx="0.75" ry="1.35"/><ellipse cx="878.3" cy="374.2" rx="0.75" ry="1.35"/><ellipse cx="881.5" cy="374.2" rx="0.75" ry="1.35"/><ellipse cx="884.7" cy="374.2" rx="0.75" ry="1.35"/><ellipse cx="887.9" cy="374.2" rx="0.75" ry="1.35"/><ellipse cx="891.1" cy="374.2" rx="0.75" ry="1.35"/><ellipse cx="894.3" cy="374.2" rx="0.75" ry="1.35"/><ellipse cx="897.4" cy="374.2" rx="0.75" ry="1.35"/><ellipse cx="900.6" cy="374.2" rx="0.75" ry="1.35"/><ellipse cx="903.8" cy="374.2" rx="0.75" ry="1.35"/><ellipse cx="907" cy="374.2" rx="0.75" ry="1.35"/><ellipse cx="910.2" cy="374.2" rx="0.75" ry="1.35"/><ellipse cx="913.4" cy="374.2" rx="0.75" ry="1.35"/><ellipse cx="916.6" cy="374.2" rx="0.75" ry="1.35"/><ellipse cx="919.8" cy="374.2" rx="0.75" ry="1.35"/><ellipse cx="923" cy="374.2" rx="0.75" ry="1.35"/><ellipse cx="926.1" cy="374.2" rx="0.75" ry="1.35"/><ellipse cx="929.3" cy="374.2" rx="0.75" ry="1.35"/><ellipse cx="932.5" cy="374.2" rx="0.75" ry="1.35"/><ellipse cx="935.7" cy="374.2" rx="0.75" ry="1.35"/><ellipse cx="938.9" cy="374.2" rx="0.75" ry="1.35"/><ellipse cx="942.1" cy="374.2" rx="0.75" ry="1.35"/><ellipse cx="945.3" cy="374.2" rx="0.75" ry="1.35"/><ellipse cx="948.5" cy="374.2" rx="0.75" ry="1.35"/><ellipse cx="951.6" cy="374.2" rx="0.75" ry="1.35"/><ellipse cx="954.8" cy="374.2" rx="0.75" ry="1.35"/><ellipse cx="958" cy="374.2" rx="0.75" ry="1.35"/><ellipse cx="961.2" cy="374.2" rx="0.75" ry="1.35"/><ellipse cx="964.4" cy="374.2" rx="0.75" ry="1.35"/><ellipse cx="967.6" cy="374.2" rx="0.75" ry="1.35"/><ellipse cx="970.8" cy="374.2" rx="0.75" ry="1.35"/><ellipse cx="974" cy="374.2" rx="0.75" ry="1.35"/></g>
<line x1="993.5" y1="248.3" x2="1012.5" y2="248.3" stroke="#3366FF" stroke-width="1"/>
<path d="M1003 245.6l2.7 2.7l-2.7 2.7l-2.7 -2.7z" fill="#3366FF" stroke="#3366FF" stroke-width="0.4"/>
<text transform="translate(1015,252.2) scale(1,1.14)" font-size="9.5">Sunday</text>
<line x1="993.5" y1="264.9" x2="1012.5" y2="264.9" stroke="#FF40FF" stroke-width="1"/>
<text transform="translate(1015,268.8) scale(1,1.14)" font-size="9.5">Monday</text>
<line x1="993.5" y1="281.5" x2="1012.5" y2="281.5" stroke="#FFFF00" stroke-width="1.36"/>
<text transform="translate(1015,285.4) scale(1,1.14)" font-size="9.5">Tuesday</text>
<line x1="993.5" y1="298.1" x2="1012.5" y2="298.1" stroke="#00FFFF" stroke-width="1.36"/>
<text transform="translate(1015,302) scale(1,1.14)" font-size="9.5">Wednesday</text>
<line x1="993.5" y1="314.7" x2="1012.5" y2="314.7" stroke="#8B1C8B" stroke-width="1"/>
<text transform="translate(1015,318.6) scale(1,1.14)" font-size="9.5">Thursday</text>
<line x1="993.5" y1="331.3" x2="1012.5" y2="331.3" stroke="#33FF33" stroke-width="1"/>
<text transform="translate(1015,335.2) scale(1,1.14)" font-size="9.5">Friday</text>
<line x1="993.5" y1="347.9" x2="1012.5" y2="347.9" stroke="#339999" stroke-width="1"/>
<path d="M1003 345.2l2.7 2.7l-2.7 2.7l-2.7 -2.7z" fill="#fff" stroke="#FF1818" stroke-width="1.0"/>
<text transform="translate(1015,351.8) scale(1,1.14)" font-size="9.5">Saturday</text>
<line x1="689" y1="285.7" x2="954.7" y2="285.7" stroke="#2B2BF2" stroke-width="3.9" stroke-dasharray="15.5 12.25"/>
<circle cx="829.8" cy="238.3" r="25.8" fill="none" stroke="#F0340F" stroke-width="3"/>
</g>
<g id="chart3">
<text class="sf" font-weight="600" x="565.8" y="568.6" font-size="13.75">空气需求曲线<tspan font-weight="500" x="651.8" font-size="13.6"> 3</tspan></text>
<rect x="417.3" y="585.2" width="345.3" height="214.3" fill="#fff" stroke="#A8A8A8" stroke-width="1"/>
<path d="M413.9 799.5h3.4M415.5 791.8h1.8M415.5 784.2h1.8M415.5 776.5h1.8M413.9 768.9h3.4M415.5 761.2h1.8M415.5 753.6h1.8M415.5 745.9h1.8M413.9 738.3h3.4M415.5 730.6h1.8M415.5 723h1.8M415.5 715.3h1.8M413.9 707.7h3.4M415.5 700h1.8M415.5 692.4h1.8M415.5 684.7h1.8M413.9 677h3.4M415.5 669.4h1.8M415.5 661.7h1.8M415.5 654.1h1.8M413.9 646.4h3.4M415.5 638.8h1.8M415.5 631.1h1.8M415.5 623.5h1.8M413.9 615.8h3.4M415.5 608.2h1.8M415.5 600.5h1.8M415.5 592.9h1.8M413.9 585.2h3.4" stroke="#000" stroke-width="0.9" fill="none"/>
<path d="M417.3 585.2V799.5H762.6" stroke="#000" stroke-width="0.95" fill="none"/>
<text x="410.5" y="802.8" text-anchor="end" font-size="8.6">0</text>
<text x="410.5" y="772.2" text-anchor="end" font-size="8.6">20</text>
<text x="410.5" y="741.6" text-anchor="end" font-size="8.6">40</text>
<text x="410.5" y="711" text-anchor="end" font-size="8.6">60</text>
<text x="410.5" y="680.4" text-anchor="end" font-size="8.6">80</text>
<text x="410.5" y="649.7" text-anchor="end" font-size="8.6">100</text>
<text x="410.5" y="619.1" text-anchor="end" font-size="8.6">120</text>
<text x="410.5" y="588.5" text-anchor="end" font-size="8.6">140</text>
<text class="b" transform="translate(388.6,691.5) rotate(-90)" text-anchor="middle" font-size="11.9">Capacity in l/s</text>
<text transform="translate(420.6,805.8) rotate(-90)" text-anchor="end" font-size="8.6">0:15</text>
<text transform="translate(438.8,805.8) rotate(-90)" text-anchor="end" font-size="8.6">1:30</text>
<text transform="translate(456.9,805.8) rotate(-90)" text-anchor="end" font-size="8.6">2:45</text>
<text transform="translate(475.1,805.8) rotate(-90)" text-anchor="end" font-size="8.6">4:00</text>
<text transform="translate(493.3,805.8) rotate(-90)" text-anchor="end" font-size="8.6">5:15</text>
<text transform="translate(511.5,805.8) rotate(-90)" text-anchor="end" font-size="8.6">6:30</text>
<text transform="translate(529.6,805.8) rotate(-90)" text-anchor="end" font-size="8.6">7:45</text>
<text transform="translate(547.8,805.8) rotate(-90)" text-anchor="end" font-size="8.6">9:00</text>
<text transform="translate(566,805.8) rotate(-90)" text-anchor="end" font-size="8.6">10:15</text>
<text transform="translate(584.2,805.8) rotate(-90)" text-anchor="end" font-size="8.6">11:30</text>
<text transform="translate(602.3,805.8) rotate(-90)" text-anchor="end" font-size="8.6">12:45</text>
<text transform="translate(620.5,805.8) rotate(-90)" text-anchor="end" font-size="8.6">14:00</text>
<text transform="translate(638.7,805.8) rotate(-90)" text-anchor="end" font-size="8.6">15:15</text>
<text transform="translate(656.9,805.8) rotate(-90)" text-anchor="end" font-size="8.6">16:30</text>
<text transform="translate(675,805.8) rotate(-90)" text-anchor="end" font-size="8.6">17:45</text>
<text transform="translate(693.2,805.8) rotate(-90)" text-anchor="end" font-size="8.6">19:00</text>
<text transform="translate(711.4,805.8) rotate(-90)" text-anchor="end" font-size="8.6">20:15</text>
<text transform="translate(729.6,805.8) rotate(-90)" text-anchor="end" font-size="8.6">21:30</text>
<text transform="translate(747.7,805.8) rotate(-90)" text-anchor="end" font-size="8.6">22:45</text>
<text transform="translate(765.9,805.8) rotate(-90)" text-anchor="end" font-size="8.6">0:00</text>
<text class="b" x="588.5" y="831" text-anchor="middle" font-size="11.3">Time</text>
<rect x="757.5" y="654" width="112" height="134" fill="#fff"/>
<polyline points="417.3,799.5 420.9,799.5 424.6,799.5 428.2,799.5 431.8,799.5 435.5,799.5 439.1,799.5 442.7,799.5 446.4,799.5 450,799.5 453.6,799.5 457.3,799.5 460.9,799.5 464.6,799.5 468.2,799.5 471.8,799.5 475.5,799.5 479.1,799.5 482.7,799.5 486.4,799.5 490,799.5 493.6,799.5 497.3,799.5 500.9,799.5 504.5,799.5 508.2,799.5 511.8,799.5 515.4,799.5 519.1,799.5 522.7,799.5 526.4,799.5 530,799.5 533.6,799.5 537.3,799.5 540.9,799.5 544.5,799.5 548.2,799.5 551.8,799.5 555.4,799.5 559.1,799.5 562.7,799.5 566.3,799.5 570,799.5 573.6,799.5 577.2,799.5 580.9,799.5 584.5,799.5 588.1,799.5 591.8,799.5 595.4,799.5 599,799.5 602.7,799.5 606.3,799.5 610,799.5 613.6,799.5 617.2,799.5 620.9,799.5 624.5,799.5 628.1,799.5 631.8,799.5 635.4,799.5 639,799.5 642.7,799.5 646.3,799.5 649.9,799.5 653.6,799.5 657.2,799.5 660.8,799.5 664.5,799.5 668.1,799.5 671.8,799.5 675.4,799.5 679,799.5 682.7,799.5 686.3,799.5 689.9,799.5 693.6,799.5 697.2,799.5 700.8,799.5 704.5,799.5 708.1,799.5 711.7,799.5 715.4,799.5 719,799.5 722.6,799.5 726.3,799.5 729.9,799.5 733.5,799.5 737.2,799.5 740.8,799.5 744.5,799.5 748.1,799.5 751.7,799.5 755.4,799.5 759,799.5 762.6,799.5" fill="none" stroke="#3366FF" stroke-width="0.9" stroke-linejoin="round"/>
<polyline points="417.3,799.5 499.1,799.5 506,668.8 562.7,668.5 635.4,669.4 736.5,668.2 743.4,799.5 762.6,799.5" fill="none" stroke="#FF40FF" stroke-width="0.9" stroke-linejoin="round"/>
<polyline points="417.3,799.5 499.8,799.5 506.7,668.8 555.4,668.8 562.7,670.9 599,671.5 623.4,670.6 628.1,651.5 631,649.6 633.6,669.4 671.8,670.9 728.5,670.3 735.7,799.5 762.6,799.5" fill="none" stroke="#FFFF00" stroke-width="1.5" stroke-linejoin="round"/>
<polyline points="417.3,799.5 500.2,799.5 503.8,779.8 507.8,668.8 562.7,668.2 632.5,669.7 637.9,618 644.9,669.7 671.8,668.5 739.4,667.6 747,799.5 762.6,799.5" fill="none" stroke="#00FFFF" stroke-width="1.5" stroke-linejoin="round"/>
<polyline points="417.3,799.5 498.7,799.5 504.9,666.6 508.2,668.8 522.7,668.5 526.4,665.7 530,668.5 533.6,668.5 536.9,666.3 540.2,668.5 635.4,668.2 732.1,667.9 739,799.5 762.6,799.5" fill="none" stroke="#8B1C8B" stroke-width="0.9" stroke-linejoin="round"/>
<polyline points="417.3,799.5 497.3,799.5 504.2,667.2 506.7,665.7 510,668.5 518.7,668.8 522.4,662 526.4,667.9 562.7,667.9 635.4,668.5 734.3,667.9 740.5,799.5 762.6,799.5" fill="none" stroke="#33FF33" stroke-width="0.9" stroke-linejoin="round"/>
<polyline points="417.3,799.5 420.9,799.5 424.6,799.5 428.2,799.5 431.8,799.5 435.5,799.5 439.1,799.5 442.7,799.5 446.4,799.5 450,799.5 453.6,799.5 457.3,799.5 460.9,799.5 464.6,799.5 468.2,799.5 471.8,799.5 475.5,799.5 479.1,799.5 482.7,799.5 486.4,799.5 490,799.5 493.6,799.5 497.3,799.5 500.9,799.5 504.5,799.5 508.2,799.5 511.8,799.5 515.4,799.5 519.1,799.5 522.7,799.5 526.4,799.5 530,799.5 533.6,799.5 537.3,799.5 540.9,799.5 544.5,799.5 548.2,799.5 551.8,799.5 555.4,799.5 559.1,799.5 562.7,799.5 566.3,799.5 570,799.5 573.6,799.5 577.2,799.5 580.9,799.5 584.5,799.5 588.1,799.5 591.8,799.5 595.4,799.5 599,799.5 602.7,799.5 606.3,799.5 610,799.5 613.6,799.5 617.2,799.5 620.9,799.5 624.5,799.5 628.1,799.5 631.8,799.5 635.4,799.5 639,799.5 642.7,799.5 646.3,799.5 649.9,799.5 653.6,799.5 657.2,799.5 660.8,799.5 664.5,799.5 668.1,799.5 671.8,799.5 675.4,799.5 679,799.5 682.7,799.5 686.3,799.5 689.9,799.5 693.6,799.5 697.2,799.5 700.8,799.5 704.5,799.5 708.1,799.5 711.7,799.5 715.4,799.5 719,799.5 722.6,799.5 726.3,799.5 729.9,799.5 733.5,799.5 737.2,799.5 740.8,799.5 744.5,799.5 748.1,799.5 751.7,799.5 755.4,799.5 759,799.5 762.6,799.5" fill="none" stroke="#339999" stroke-width="0.9" stroke-linejoin="round"/>
<g><path d="M417.3 796.9l2.6 2.6l-2.6 2.6l-2.6 -2.6z" fill="#3366FF" stroke="#3366FF" stroke-width="0.4"/><path d="M420.9 796.9l2.6 2.6l-2.6 2.6l-2.6 -2.6z" fill="#3366FF" stroke="#3366FF" stroke-width="0.4"/><path d="M424.6 796.9l2.6 2.6l-2.6 2.6l-2.6 -2.6z" fill="#3366FF" stroke="#3366FF" stroke-width="0.4"/><path d="M428.2 796.9l2.6 2.6l-2.6 2.6l-2.6 -2.6z" fill="#3366FF" stroke="#3366FF" stroke-width="0.4"/><path d="M431.8 796.9l2.6 2.6l-2.6 2.6l-2.6 -2.6z" fill="#3366FF" stroke="#3366FF" stroke-width="0.4"/><path d="M435.5 796.9l2.6 2.6l-2.6 2.6l-2.6 -2.6z" fill="#3366FF" stroke="#3366FF" stroke-width="0.4"/><path d="M439.1 796.9l2.6 2.6l-2.6 2.6l-2.6 -2.6z" fill="#3366FF" stroke="#3366FF" stroke-width="0.4"/><path d="M442.7 796.9l2.6 2.6l-2.6 2.6l-2.6 -2.6z" fill="#3366FF" stroke="#3366FF" stroke-width="0.4"/><path d="M446.4 796.9l2.6 2.6l-2.6 2.6l-2.6 -2.6z" fill="#3366FF" stroke="#3366FF" stroke-width="0.4"/><path d="M450 796.9l2.6 2.6l-2.6 2.6l-2.6 -2.6z" fill="#3366FF" stroke="#3366FF" stroke-width="0.4"/><path d="M453.6 796.9l2.6 2.6l-2.6 2.6l-2.6 -2.6z" fill="#3366FF" stroke="#3366FF" stroke-width="0.4"/><path d="M457.3 796.9l2.6 2.6l-2.6 2.6l-2.6 -2.6z" fill="#3366FF" stroke="#3366FF" stroke-width="0.4"/><path d="M460.9 796.9l2.6 2.6l-2.6 2.6l-2.6 -2.6z" fill="#3366FF" stroke="#3366FF" stroke-width="0.4"/><path d="M464.6 796.9l2.6 2.6l-2.6 2.6l-2.6 -2.6z" fill="#3366FF" stroke="#3366FF" stroke-width="0.4"/><path d="M468.2 796.9l2.6 2.6l-2.6 2.6l-2.6 -2.6z" fill="#3366FF" stroke="#3366FF" stroke-width="0.4"/><path d="M471.8 796.9l2.6 2.6l-2.6 2.6l-2.6 -2.6z" fill="#3366FF" stroke="#3366FF" stroke-width="0.4"/><path d="M475.5 796.9l2.6 2.6l-2.6 2.6l-2.6 -2.6z" fill="#3366FF" stroke="#3366FF" stroke-width="0.4"/><path d="M479.1 796.9l2.6 2.6l-2.6 2.6l-2.6 -2.6z" fill="#3366FF" stroke="#3366FF" stroke-width="0.4"/><path d="M482.7 796.9l2.6 2.6l-2.6 2.6l-2.6 -2.6z" fill="#3366FF" stroke="#3366FF" stroke-width="0.4"/><path d="M486.4 796.9l2.6 2.6l-2.6 2.6l-2.6 -2.6z" fill="#3366FF" stroke="#3366FF" stroke-width="0.4"/><path d="M490 796.9l2.6 2.6l-2.6 2.6l-2.6 -2.6z" fill="#3366FF" stroke="#3366FF" stroke-width="0.4"/><path d="M493.6 796.9l2.6 2.6l-2.6 2.6l-2.6 -2.6z" fill="#3366FF" stroke="#3366FF" stroke-width="0.4"/><path d="M497.3 796.9l2.6 2.6l-2.6 2.6l-2.6 -2.6z" fill="#3366FF" stroke="#3366FF" stroke-width="0.4"/><path d="M500.9 796.9l2.6 2.6l-2.6 2.6l-2.6 -2.6z" fill="#3366FF" stroke="#3366FF" stroke-width="0.4"/><path d="M504.5 796.9l2.6 2.6l-2.6 2.6l-2.6 -2.6z" fill="#3366FF" stroke="#3366FF" stroke-width="0.4"/><path d="M508.2 796.9l2.6 2.6l-2.6 2.6l-2.6 -2.6z" fill="#3366FF" stroke="#3366FF" stroke-width="0.4"/><path d="M511.8 796.9l2.6 2.6l-2.6 2.6l-2.6 -2.6z" fill="#3366FF" stroke="#3366FF" stroke-width="0.4"/><path d="M515.4 796.9l2.6 2.6l-2.6 2.6l-2.6 -2.6z" fill="#3366FF" stroke="#3366FF" stroke-width="0.4"/><path d="M519.1 796.9l2.6 2.6l-2.6 2.6l-2.6 -2.6z" fill="#3366FF" stroke="#3366FF" stroke-width="0.4"/><path d="M522.7 796.9l2.6 2.6l-2.6 2.6l-2.6 -2.6z" fill="#3366FF" stroke="#3366FF" stroke-width="0.4"/><path d="M526.4 796.9l2.6 2.6l-2.6 2.6l-2.6 -2.6z" fill="#3366FF" stroke="#3366FF" stroke-width="0.4"/><path d="M530 796.9l2.6 2.6l-2.6 2.6l-2.6 -2.6z" fill="#3366FF" stroke="#3366FF" stroke-width="0.4"/><path d="M533.6 796.9l2.6 2.6l-2.6 2.6l-2.6 -2.6z" fill="#3366FF" stroke="#3366FF" stroke-width="0.4"/><path d="M537.3 796.9l2.6 2.6l-2.6 2.6l-2.6 -2.6z" fill="#3366FF" stroke="#3366FF" stroke-width="0.4"/><path d="M540.9 796.9l2.6 2.6l-2.6 2.6l-2.6 -2.6z" fill="#3366FF" stroke="#3366FF" stroke-width="0.4"/><path d="M544.5 796.9l2.6 2.6l-2.6 2.6l-2.6 -2.6z" fill="#3366FF" stroke="#3366FF" stroke-width="0.4"/><path d="M548.2 796.9l2.6 2.6l-2.6 2.6l-2.6 -2.6z" fill="#3366FF" stroke="#3366FF" stroke-width="0.4"/><path d="M551.8 796.9l2.6 2.6l-2.6 2.6l-2.6 -2.6z" fill="#3366FF" stroke="#3366FF" stroke-width="0.4"/><path d="M555.4 796.9l2.6 2.6l-2.6 2.6l-2.6 -2.6z" fill="#3366FF" stroke="#3366FF" stroke-width="0.4"/><path d="M559.1 796.9l2.6 2.6l-2.6 2.6l-2.6 -2.6z" fill="#3366FF" stroke="#3366FF" stroke-width="0.4"/><path d="M562.7 796.9l2.6 2.6l-2.6 2.6l-2.6 -2.6z" fill="#3366FF" stroke="#3366FF" stroke-width="0.4"/><path d="M566.3 796.9l2.6 2.6l-2.6 2.6l-2.6 -2.6z" fill="#3366FF" stroke="#3366FF" stroke-width="0.4"/><path d="M570 796.9l2.6 2.6l-2.6 2.6l-2.6 -2.6z" fill="#3366FF" stroke="#3366FF" stroke-width="0.4"/><path d="M573.6 796.9l2.6 2.6l-2.6 2.6l-2.6 -2.6z" fill="#3366FF" stroke="#3366FF" stroke-width="0.4"/><path d="M577.2 796.9l2.6 2.6l-2.6 2.6l-2.6 -2.6z" fill="#3366FF" stroke="#3366FF" stroke-width="0.4"/><path d="M580.9 796.9l2.6 2.6l-2.6 2.6l-2.6 -2.6z" fill="#3366FF" stroke="#3366FF" stroke-width="0.4"/><path d="M584.5 796.9l2.6 2.6l-2.6 2.6l-2.6 -2.6z" fill="#3366FF" stroke="#3366FF" stroke-width="0.4"/><path d="M588.1 796.9l2.6 2.6l-2.6 2.6l-2.6 -2.6z" fill="#3366FF" stroke="#3366FF" stroke-width="0.4"/><path d="M591.8 796.9l2.6 2.6l-2.6 2.6l-2.6 -2.6z" fill="#3366FF" stroke="#3366FF" stroke-width="0.4"/><path d="M595.4 796.9l2.6 2.6l-2.6 2.6l-2.6 -2.6z" fill="#3366FF" stroke="#3366FF" stroke-width="0.4"/><path d="M599 796.9l2.6 2.6l-2.6 2.6l-2.6 -2.6z" fill="#3366FF" stroke="#3366FF" stroke-width="0.4"/><path d="M602.7 796.9l2.6 2.6l-2.6 2.6l-2.6 -2.6z" fill="#3366FF" stroke="#3366FF" stroke-width="0.4"/><path d="M606.3 796.9l2.6 2.6l-2.6 2.6l-2.6 -2.6z" fill="#3366FF" stroke="#3366FF" stroke-width="0.4"/><path d="M610 796.9l2.6 2.6l-2.6 2.6l-2.6 -2.6z" fill="#3366FF" stroke="#3366FF" stroke-width="0.4"/><path d="M613.6 796.9l2.6 2.6l-2.6 2.6l-2.6 -2.6z" fill="#3366FF" stroke="#3366FF" stroke-width="0.4"/><path d="M617.2 796.9l2.6 2.6l-2.6 2.6l-2.6 -2.6z" fill="#3366FF" stroke="#3366FF" stroke-width="0.4"/><path d="M620.9 796.9l2.6 2.6l-2.6 2.6l-2.6 -2.6z" fill="#3366FF" stroke="#3366FF" stroke-width="0.4"/><path d="M624.5 796.9l2.6 2.6l-2.6 2.6l-2.6 -2.6z" fill="#3366FF" stroke="#3366FF" stroke-width="0.4"/><path d="M628.1 796.9l2.6 2.6l-2.6 2.6l-2.6 -2.6z" fill="#3366FF" stroke="#3366FF" stroke-width="0.4"/><path d="M631.8 796.9l2.6 2.6l-2.6 2.6l-2.6 -2.6z" fill="#3366FF" stroke="#3366FF" stroke-width="0.4"/><path d="M635.4 796.9l2.6 2.6l-2.6 2.6l-2.6 -2.6z" fill="#3366FF" stroke="#3366FF" stroke-width="0.4"/><path d="M639 796.9l2.6 2.6l-2.6 2.6l-2.6 -2.6z" fill="#3366FF" stroke="#3366FF" stroke-width="0.4"/><path d="M642.7 796.9l2.6 2.6l-2.6 2.6l-2.6 -2.6z" fill="#3366FF" stroke="#3366FF" stroke-width="0.4"/><path d="M646.3 796.9l2.6 2.6l-2.6 2.6l-2.6 -2.6z" fill="#3366FF" stroke="#3366FF" stroke-width="0.4"/><path d="M649.9 796.9l2.6 2.6l-2.6 2.6l-2.6 -2.6z" fill="#3366FF" stroke="#3366FF" stroke-width="0.4"/><path d="M653.6 796.9l2.6 2.6l-2.6 2.6l-2.6 -2.6z" fill="#3366FF" stroke="#3366FF" stroke-width="0.4"/><path d="M657.2 796.9l2.6 2.6l-2.6 2.6l-2.6 -2.6z" fill="#3366FF" stroke="#3366FF" stroke-width="0.4"/><path d="M660.8 796.9l2.6 2.6l-2.6 2.6l-2.6 -2.6z" fill="#3366FF" stroke="#3366FF" stroke-width="0.4"/><path d="M664.5 796.9l2.6 2.6l-2.6 2.6l-2.6 -2.6z" fill="#3366FF" stroke="#3366FF" stroke-width="0.4"/><path d="M668.1 796.9l2.6 2.6l-2.6 2.6l-2.6 -2.6z" fill="#3366FF" stroke="#3366FF" stroke-width="0.4"/><path d="M671.8 796.9l2.6 2.6l-2.6 2.6l-2.6 -2.6z" fill="#3366FF" stroke="#3366FF" stroke-width="0.4"/><path d="M675.4 796.9l2.6 2.6l-2.6 2.6l-2.6 -2.6z" fill="#3366FF" stroke="#3366FF" stroke-width="0.4"/><path d="M679 796.9l2.6 2.6l-2.6 2.6l-2.6 -2.6z" fill="#3366FF" stroke="#3366FF" stroke-width="0.4"/><path d="M682.7 796.9l2.6 2.6l-2.6 2.6l-2.6 -2.6z" fill="#3366FF" stroke="#3366FF" stroke-width="0.4"/><path d="M686.3 796.9l2.6 2.6l-2.6 2.6l-2.6 -2.6z" fill="#3366FF" stroke="#3366FF" stroke-width="0.4"/><path d="M689.9 796.9l2.6 2.6l-2.6 2.6l-2.6 -2.6z" fill="#3366FF" stroke="#3366FF" stroke-width="0.4"/><path d="M693.6 796.9l2.6 2.6l-2.6 2.6l-2.6 -2.6z" fill="#3366FF" stroke="#3366FF" stroke-width="0.4"/><path d="M697.2 796.9l2.6 2.6l-2.6 2.6l-2.6 -2.6z" fill="#3366FF" stroke="#3366FF" stroke-width="0.4"/><path d="M700.8 796.9l2.6 2.6l-2.6 2.6l-2.6 -2.6z" fill="#3366FF" stroke="#3366FF" stroke-width="0.4"/><path d="M704.5 796.9l2.6 2.6l-2.6 2.6l-2.6 -2.6z" fill="#3366FF" stroke="#3366FF" stroke-width="0.4"/><path d="M708.1 796.9l2.6 2.6l-2.6 2.6l-2.6 -2.6z" fill="#3366FF" stroke="#3366FF" stroke-width="0.4"/><path d="M711.7 796.9l2.6 2.6l-2.6 2.6l-2.6 -2.6z" fill="#3366FF" stroke="#3366FF" stroke-width="0.4"/><path d="M715.4 796.9l2.6 2.6l-2.6 2.6l-2.6 -2.6z" fill="#3366FF" stroke="#3366FF" stroke-width="0.4"/><path d="M719 796.9l2.6 2.6l-2.6 2.6l-2.6 -2.6z" fill="#3366FF" stroke="#3366FF" stroke-width="0.4"/><path d="M722.6 796.9l2.6 2.6l-2.6 2.6l-2.6 -2.6z" fill="#3366FF" stroke="#3366FF" stroke-width="0.4"/><path d="M726.3 796.9l2.6 2.6l-2.6 2.6l-2.6 -2.6z" fill="#3366FF" stroke="#3366FF" stroke-width="0.4"/><path d="M729.9 796.9l2.6 2.6l-2.6 2.6l-2.6 -2.6z" fill="#3366FF" stroke="#3366FF" stroke-width="0.4"/><path d="M733.5 796.9l2.6 2.6l-2.6 2.6l-2.6 -2.6z" fill="#3366FF" stroke="#3366FF" stroke-width="0.4"/><path d="M737.2 796.9l2.6 2.6l-2.6 2.6l-2.6 -2.6z" fill="#3366FF" stroke="#3366FF" stroke-width="0.4"/><path d="M740.8 796.9l2.6 2.6l-2.6 2.6l-2.6 -2.6z" fill="#3366FF" stroke="#3366FF" stroke-width="0.4"/><path d="M744.5 796.9l2.6 2.6l-2.6 2.6l-2.6 -2.6z" fill="#3366FF" stroke="#3366FF" stroke-width="0.4"/><path d="M748.1 796.9l2.6 2.6l-2.6 2.6l-2.6 -2.6z" fill="#3366FF" stroke="#3366FF" stroke-width="0.4"/><path d="M751.7 796.9l2.6 2.6l-2.6 2.6l-2.6 -2.6z" fill="#3366FF" stroke="#3366FF" stroke-width="0.4"/><path d="M755.4 796.9l2.6 2.6l-2.6 2.6l-2.6 -2.6z" fill="#3366FF" stroke="#3366FF" stroke-width="0.4"/><path d="M759 796.9l2.6 2.6l-2.6 2.6l-2.6 -2.6z" fill="#3366FF" stroke="#3366FF" stroke-width="0.4"/><path d="M762.6 796.9l2.6 2.6l-2.6 2.6l-2.6 -2.6z" fill="#3366FF" stroke="#3366FF" stroke-width="0.4"/></g>
<g><path d="M417.3 796.9l2.6 2.6l-2.6 2.6l-2.6 -2.6z" fill="none" stroke="#FF1818" stroke-width="1.1"/><path d="M420.9 796.9l2.6 2.6l-2.6 2.6l-2.6 -2.6z" fill="none" stroke="#FF1818" stroke-width="1.1"/><path d="M424.6 796.9l2.6 2.6l-2.6 2.6l-2.6 -2.6z" fill="none" stroke="#FF1818" stroke-width="1.1"/><path d="M428.2 796.9l2.6 2.6l-2.6 2.6l-2.6 -2.6z" fill="none" stroke="#FF1818" stroke-width="1.1"/><path d="M431.8 796.9l2.6 2.6l-2.6 2.6l-2.6 -2.6z" fill="none" stroke="#FF1818" stroke-width="1.1"/><path d="M435.5 796.9l2.6 2.6l-2.6 2.6l-2.6 -2.6z" fill="none" stroke="#FF1818" stroke-width="1.1"/><path d="M439.1 796.9l2.6 2.6l-2.6 2.6l-2.6 -2.6z" fill="none" stroke="#FF1818" stroke-width="1.1"/><path d="M442.7 796.9l2.6 2.6l-2.6 2.6l-2.6 -2.6z" fill="none" stroke="#FF1818" stroke-width="1.1"/><path d="M446.4 796.9l2.6 2.6l-2.6 2.6l-2.6 -2.6z" fill="none" stroke="#FF1818" stroke-width="1.1"/><path d="M450 796.9l2.6 2.6l-2.6 2.6l-2.6 -2.6z" fill="none" stroke="#FF1818" stroke-width="1.1"/><path d="M453.6 796.9l2.6 2.6l-2.6 2.6l-2.6 -2.6z" fill="none" stroke="#FF1818" stroke-width="1.1"/><path d="M457.3 796.9l2.6 2.6l-2.6 2.6l-2.6 -2.6z" fill="none" stroke="#FF1818" stroke-width="1.1"/><path d="M460.9 796.9l2.6 2.6l-2.6 2.6l-2.6 -2.6z" fill="none" stroke="#FF1818" stroke-width="1.1"/><path d="M464.6 796.9l2.6 2.6l-2.6 2.6l-2.6 -2.6z" fill="none" stroke="#FF1818" stroke-width="1.1"/><path d="M468.2 796.9l2.6 2.6l-2.6 2.6l-2.6 -2.6z" fill="none" stroke="#FF1818" stroke-width="1.1"/><path d="M471.8 796.9l2.6 2.6l-2.6 2.6l-2.6 -2.6z" fill="none" stroke="#FF1818" stroke-width="1.1"/><path d="M475.5 796.9l2.6 2.6l-2.6 2.6l-2.6 -2.6z" fill="none" stroke="#FF1818" stroke-width="1.1"/><path d="M479.1 796.9l2.6 2.6l-2.6 2.6l-2.6 -2.6z" fill="none" stroke="#FF1818" stroke-width="1.1"/><path d="M482.7 796.9l2.6 2.6l-2.6 2.6l-2.6 -2.6z" fill="none" stroke="#FF1818" stroke-width="1.1"/><path d="M486.4 796.9l2.6 2.6l-2.6 2.6l-2.6 -2.6z" fill="none" stroke="#FF1818" stroke-width="1.1"/><path d="M490 796.9l2.6 2.6l-2.6 2.6l-2.6 -2.6z" fill="none" stroke="#FF1818" stroke-width="1.1"/><path d="M493.6 796.9l2.6 2.6l-2.6 2.6l-2.6 -2.6z" fill="none" stroke="#FF1818" stroke-width="1.1"/><path d="M497.3 796.9l2.6 2.6l-2.6 2.6l-2.6 -2.6z" fill="none" stroke="#FF1818" stroke-width="1.1"/><path d="M500.9 796.9l2.6 2.6l-2.6 2.6l-2.6 -2.6z" fill="none" stroke="#FF1818" stroke-width="1.1"/><path d="M504.5 796.9l2.6 2.6l-2.6 2.6l-2.6 -2.6z" fill="none" stroke="#FF1818" stroke-width="1.1"/><path d="M508.2 796.9l2.6 2.6l-2.6 2.6l-2.6 -2.6z" fill="none" stroke="#FF1818" stroke-width="1.1"/><path d="M511.8 796.9l2.6 2.6l-2.6 2.6l-2.6 -2.6z" fill="none" stroke="#FF1818" stroke-width="1.1"/><path d="M515.4 796.9l2.6 2.6l-2.6 2.6l-2.6 -2.6z" fill="none" stroke="#FF1818" stroke-width="1.1"/><path d="M519.1 796.9l2.6 2.6l-2.6 2.6l-2.6 -2.6z" fill="none" stroke="#FF1818" stroke-width="1.1"/><path d="M522.7 796.9l2.6 2.6l-2.6 2.6l-2.6 -2.6z" fill="none" stroke="#FF1818" stroke-width="1.1"/><path d="M526.4 796.9l2.6 2.6l-2.6 2.6l-2.6 -2.6z" fill="none" stroke="#FF1818" stroke-width="1.1"/><path d="M530 796.9l2.6 2.6l-2.6 2.6l-2.6 -2.6z" fill="none" stroke="#FF1818" stroke-width="1.1"/><path d="M533.6 796.9l2.6 2.6l-2.6 2.6l-2.6 -2.6z" fill="none" stroke="#FF1818" stroke-width="1.1"/><path d="M537.3 796.9l2.6 2.6l-2.6 2.6l-2.6 -2.6z" fill="none" stroke="#FF1818" stroke-width="1.1"/><path d="M540.9 796.9l2.6 2.6l-2.6 2.6l-2.6 -2.6z" fill="none" stroke="#FF1818" stroke-width="1.1"/><path d="M544.5 796.9l2.6 2.6l-2.6 2.6l-2.6 -2.6z" fill="none" stroke="#FF1818" stroke-width="1.1"/><path d="M548.2 796.9l2.6 2.6l-2.6 2.6l-2.6 -2.6z" fill="none" stroke="#FF1818" stroke-width="1.1"/><path d="M551.8 796.9l2.6 2.6l-2.6 2.6l-2.6 -2.6z" fill="none" stroke="#FF1818" stroke-width="1.1"/><path d="M555.4 796.9l2.6 2.6l-2.6 2.6l-2.6 -2.6z" fill="none" stroke="#FF1818" stroke-width="1.1"/><path d="M559.1 796.9l2.6 2.6l-2.6 2.6l-2.6 -2.6z" fill="none" stroke="#FF1818" stroke-width="1.1"/><path d="M562.7 796.9l2.6 2.6l-2.6 2.6l-2.6 -2.6z" fill="none" stroke="#FF1818" stroke-width="1.1"/><path d="M566.3 796.9l2.6 2.6l-2.6 2.6l-2.6 -2.6z" fill="none" stroke="#FF1818" stroke-width="1.1"/><path d="M570 796.9l2.6 2.6l-2.6 2.6l-2.6 -2.6z" fill="none" stroke="#FF1818" stroke-width="1.1"/><path d="M573.6 796.9l2.6 2.6l-2.6 2.6l-2.6 -2.6z" fill="none" stroke="#FF1818" stroke-width="1.1"/><path d="M577.2 796.9l2.6 2.6l-2.6 2.6l-2.6 -2.6z" fill="none" stroke="#FF1818" stroke-width="1.1"/><path d="M580.9 796.9l2.6 2.6l-2.6 2.6l-2.6 -2.6z" fill="none" stroke="#FF1818" stroke-width="1.1"/><path d="M584.5 796.9l2.6 2.6l-2.6 2.6l-2.6 -2.6z" fill="none" stroke="#FF1818" stroke-width="1.1"/><path d="M588.1 796.9l2.6 2.6l-2.6 2.6l-2.6 -2.6z" fill="none" stroke="#FF1818" stroke-width="1.1"/><path d="M591.8 796.9l2.6 2.6l-2.6 2.6l-2.6 -2.6z" fill="none" stroke="#FF1818" stroke-width="1.1"/><path d="M595.4 796.9l2.6 2.6l-2.6 2.6l-2.6 -2.6z" fill="none" stroke="#FF1818" stroke-width="1.1"/><path d="M599 796.9l2.6 2.6l-2.6 2.6l-2.6 -2.6z" fill="none" stroke="#FF1818" stroke-width="1.1"/><path d="M602.7 796.9l2.6 2.6l-2.6 2.6l-2.6 -2.6z" fill="none" stroke="#FF1818" stroke-width="1.1"/><path d="M606.3 796.9l2.6 2.6l-2.6 2.6l-2.6 -2.6z" fill="none" stroke="#FF1818" stroke-width="1.1"/><path d="M610 796.9l2.6 2.6l-2.6 2.6l-2.6 -2.6z" fill="none" stroke="#FF1818" stroke-width="1.1"/><path d="M613.6 796.9l2.6 2.6l-2.6 2.6l-2.6 -2.6z" fill="none" stroke="#FF1818" stroke-width="1.1"/><path d="M617.2 796.9l2.6 2.6l-2.6 2.6l-2.6 -2.6z" fill="none" stroke="#FF1818" stroke-width="1.1"/><path d="M620.9 796.9l2.6 2.6l-2.6 2.6l-2.6 -2.6z" fill="none" stroke="#FF1818" stroke-width="1.1"/><path d="M624.5 796.9l2.6 2.6l-2.6 2.6l-2.6 -2.6z" fill="none" stroke="#FF1818" stroke-width="1.1"/><path d="M628.1 796.9l2.6 2.6l-2.6 2.6l-2.6 -2.6z" fill="none" stroke="#FF1818" stroke-width="1.1"/><path d="M631.8 796.9l2.6 2.6l-2.6 2.6l-2.6 -2.6z" fill="none" stroke="#FF1818" stroke-width="1.1"/><path d="M635.4 796.9l2.6 2.6l-2.6 2.6l-2.6 -2.6z" fill="none" stroke="#FF1818" stroke-width="1.1"/><path d="M639 796.9l2.6 2.6l-2.6 2.6l-2.6 -2.6z" fill="none" stroke="#FF1818" stroke-width="1.1"/><path d="M642.7 796.9l2.6 2.6l-2.6 2.6l-2.6 -2.6z" fill="none" stroke="#FF1818" stroke-width="1.1"/><path d="M646.3 796.9l2.6 2.6l-2.6 2.6l-2.6 -2.6z" fill="none" stroke="#FF1818" stroke-width="1.1"/><path d="M649.9 796.9l2.6 2.6l-2.6 2.6l-2.6 -2.6z" fill="none" stroke="#FF1818" stroke-width="1.1"/><path d="M653.6 796.9l2.6 2.6l-2.6 2.6l-2.6 -2.6z" fill="none" stroke="#FF1818" stroke-width="1.1"/><path d="M657.2 796.9l2.6 2.6l-2.6 2.6l-2.6 -2.6z" fill="none" stroke="#FF1818" stroke-width="1.1"/><path d="M660.8 796.9l2.6 2.6l-2.6 2.6l-2.6 -2.6z" fill="none" stroke="#FF1818" stroke-width="1.1"/><path d="M664.5 796.9l2.6 2.6l-2.6 2.6l-2.6 -2.6z" fill="none" stroke="#FF1818" stroke-width="1.1"/><path d="M668.1 796.9l2.6 2.6l-2.6 2.6l-2.6 -2.6z" fill="none" stroke="#FF1818" stroke-width="1.1"/><path d="M671.8 796.9l2.6 2.6l-2.6 2.6l-2.6 -2.6z" fill="none" stroke="#FF1818" stroke-width="1.1"/><path d="M675.4 796.9l2.6 2.6l-2.6 2.6l-2.6 -2.6z" fill="none" stroke="#FF1818" stroke-width="1.1"/><path d="M679 796.9l2.6 2.6l-2.6 2.6l-2.6 -2.6z" fill="none" stroke="#FF1818" stroke-width="1.1"/><path d="M682.7 796.9l2.6 2.6l-2.6 2.6l-2.6 -2.6z" fill="none" stroke="#FF1818" stroke-width="1.1"/><path d="M686.3 796.9l2.6 2.6l-2.6 2.6l-2.6 -2.6z" fill="none" stroke="#FF1818" stroke-width="1.1"/><path d="M689.9 796.9l2.6 2.6l-2.6 2.6l-2.6 -2.6z" fill="none" stroke="#FF1818" stroke-width="1.1"/><path d="M693.6 796.9l2.6 2.6l-2.6 2.6l-2.6 -2.6z" fill="none" stroke="#FF1818" stroke-width="1.1"/><path d="M697.2 796.9l2.6 2.6l-2.6 2.6l-2.6 -2.6z" fill="none" stroke="#FF1818" stroke-width="1.1"/><path d="M700.8 796.9l2.6 2.6l-2.6 2.6l-2.6 -2.6z" fill="none" stroke="#FF1818" stroke-width="1.1"/><path d="M704.5 796.9l2.6 2.6l-2.6 2.6l-2.6 -2.6z" fill="none" stroke="#FF1818" stroke-width="1.1"/><path d="M708.1 796.9l2.6 2.6l-2.6 2.6l-2.6 -2.6z" fill="none" stroke="#FF1818" stroke-width="1.1"/><path d="M711.7 796.9l2.6 2.6l-2.6 2.6l-2.6 -2.6z" fill="none" stroke="#FF1818" stroke-width="1.1"/><path d="M715.4 796.9l2.6 2.6l-2.6 2.6l-2.6 -2.6z" fill="none" stroke="#FF1818" stroke-width="1.1"/><path d="M719 796.9l2.6 2.6l-2.6 2.6l-2.6 -2.6z" fill="none" stroke="#FF1818" stroke-width="1.1"/><path d="M722.6 796.9l2.6 2.6l-2.6 2.6l-2.6 -2.6z" fill="none" stroke="#FF1818" stroke-width="1.1"/><path d="M726.3 796.9l2.6 2.6l-2.6 2.6l-2.6 -2.6z" fill="none" stroke="#FF1818" stroke-width="1.1"/><path d="M729.9 796.9l2.6 2.6l-2.6 2.6l-2.6 -2.6z" fill="none" stroke="#FF1818" stroke-width="1.1"/><path d="M733.5 796.9l2.6 2.6l-2.6 2.6l-2.6 -2.6z" fill="none" stroke="#FF1818" stroke-width="1.1"/><path d="M737.2 796.9l2.6 2.6l-2.6 2.6l-2.6 -2.6z" fill="none" stroke="#FF1818" stroke-width="1.1"/><path d="M740.8 796.9l2.6 2.6l-2.6 2.6l-2.6 -2.6z" fill="none" stroke="#FF1818" stroke-width="1.1"/><path d="M744.5 796.9l2.6 2.6l-2.6 2.6l-2.6 -2.6z" fill="none" stroke="#FF1818" stroke-width="1.1"/><path d="M748.1 796.9l2.6 2.6l-2.6 2.6l-2.6 -2.6z" fill="none" stroke="#FF1818" stroke-width="1.1"/><path d="M751.7 796.9l2.6 2.6l-2.6 2.6l-2.6 -2.6z" fill="none" stroke="#FF1818" stroke-width="1.1"/><path d="M755.4 796.9l2.6 2.6l-2.6 2.6l-2.6 -2.6z" fill="none" stroke="#FF1818" stroke-width="1.1"/><path d="M759 796.9l2.6 2.6l-2.6 2.6l-2.6 -2.6z" fill="none" stroke="#FF1818" stroke-width="1.1"/><path d="M762.6 796.9l2.6 2.6l-2.6 2.6l-2.6 -2.6z" fill="none" stroke="#FF1818" stroke-width="1.1"/></g>
<g fill="#2F6BFF"><ellipse cx="417.3" cy="799.5" rx="0.85" ry="1.6"/><ellipse cx="420.9" cy="799.5" rx="0.85" ry="1.6"/><ellipse cx="424.6" cy="799.5" rx="0.85" ry="1.6"/><ellipse cx="428.2" cy="799.5" rx="0.85" ry="1.6"/><ellipse cx="431.8" cy="799.5" rx="0.85" ry="1.6"/><ellipse cx="435.5" cy="799.5" rx="0.85" ry="1.6"/><ellipse cx="439.1" cy="799.5" rx="0.85" ry="1.6"/><ellipse cx="442.7" cy="799.5" rx="0.85" ry="1.6"/><ellipse cx="446.4" cy="799.5" rx="0.85" ry="1.6"/><ellipse cx="450" cy="799.5" rx="0.85" ry="1.6"/><ellipse cx="453.6" cy="799.5" rx="0.85" ry="1.6"/><ellipse cx="457.3" cy="799.5" rx="0.85" ry="1.6"/><ellipse cx="460.9" cy="799.5" rx="0.85" ry="1.6"/><ellipse cx="464.6" cy="799.5" rx="0.85" ry="1.6"/><ellipse cx="468.2" cy="799.5" rx="0.85" ry="1.6"/><ellipse cx="471.8" cy="799.5" rx="0.85" ry="1.6"/><ellipse cx="475.5" cy="799.5" rx="0.85" ry="1.6"/><ellipse cx="479.1" cy="799.5" rx="0.85" ry="1.6"/><ellipse cx="482.7" cy="799.5" rx="0.85" ry="1.6"/><ellipse cx="486.4" cy="799.5" rx="0.85" ry="1.6"/><ellipse cx="490" cy="799.5" rx="0.85" ry="1.6"/><ellipse cx="493.6" cy="799.5" rx="0.85" ry="1.6"/><ellipse cx="497.3" cy="799.5" rx="0.85" ry="1.6"/><ellipse cx="500.9" cy="799.5" rx="0.85" ry="1.6"/><ellipse cx="504.5" cy="799.5" rx="0.85" ry="1.6"/><ellipse cx="508.2" cy="799.5" rx="0.85" ry="1.6"/><ellipse cx="511.8" cy="799.5" rx="0.85" ry="1.6"/><ellipse cx="515.4" cy="799.5" rx="0.85" ry="1.6"/><ellipse cx="519.1" cy="799.5" rx="0.85" ry="1.6"/><ellipse cx="522.7" cy="799.5" rx="0.85" ry="1.6"/><ellipse cx="526.4" cy="799.5" rx="0.85" ry="1.6"/><ellipse cx="530" cy="799.5" rx="0.85" ry="1.6"/><ellipse cx="533.6" cy="799.5" rx="0.85" ry="1.6"/><ellipse cx="537.3" cy="799.5" rx="0.85" ry="1.6"/><ellipse cx="540.9" cy="799.5" rx="0.85" ry="1.6"/><ellipse cx="544.5" cy="799.5" rx="0.85" ry="1.6"/><ellipse cx="548.2" cy="799.5" rx="0.85" ry="1.6"/><ellipse cx="551.8" cy="799.5" rx="0.85" ry="1.6"/><ellipse cx="555.4" cy="799.5" rx="0.85" ry="1.6"/><ellipse cx="559.1" cy="799.5" rx="0.85" ry="1.6"/><ellipse cx="562.7" cy="799.5" rx="0.85" ry="1.6"/><ellipse cx="566.3" cy="799.5" rx="0.85" ry="1.6"/><ellipse cx="570" cy="799.5" rx="0.85" ry="1.6"/><ellipse cx="573.6" cy="799.5" rx="0.85" ry="1.6"/><ellipse cx="577.2" cy="799.5" rx="0.85" ry="1.6"/><ellipse cx="580.9" cy="799.5" rx="0.85" ry="1.6"/><ellipse cx="584.5" cy="799.5" rx="0.85" ry="1.6"/><ellipse cx="588.1" cy="799.5" rx="0.85" ry="1.6"/><ellipse cx="591.8" cy="799.5" rx="0.85" ry="1.6"/><ellipse cx="595.4" cy="799.5" rx="0.85" ry="1.6"/><ellipse cx="599" cy="799.5" rx="0.85" ry="1.6"/><ellipse cx="602.7" cy="799.5" rx="0.85" ry="1.6"/><ellipse cx="606.3" cy="799.5" rx="0.85" ry="1.6"/><ellipse cx="610" cy="799.5" rx="0.85" ry="1.6"/><ellipse cx="613.6" cy="799.5" rx="0.85" ry="1.6"/><ellipse cx="617.2" cy="799.5" rx="0.85" ry="1.6"/><ellipse cx="620.9" cy="799.5" rx="0.85" ry="1.6"/><ellipse cx="624.5" cy="799.5" rx="0.85" ry="1.6"/><ellipse cx="628.1" cy="799.5" rx="0.85" ry="1.6"/><ellipse cx="631.8" cy="799.5" rx="0.85" ry="1.6"/><ellipse cx="635.4" cy="799.5" rx="0.85" ry="1.6"/><ellipse cx="639" cy="799.5" rx="0.85" ry="1.6"/><ellipse cx="642.7" cy="799.5" rx="0.85" ry="1.6"/><ellipse cx="646.3" cy="799.5" rx="0.85" ry="1.6"/><ellipse cx="649.9" cy="799.5" rx="0.85" ry="1.6"/><ellipse cx="653.6" cy="799.5" rx="0.85" ry="1.6"/><ellipse cx="657.2" cy="799.5" rx="0.85" ry="1.6"/><ellipse cx="660.8" cy="799.5" rx="0.85" ry="1.6"/><ellipse cx="664.5" cy="799.5" rx="0.85" ry="1.6"/><ellipse cx="668.1" cy="799.5" rx="0.85" ry="1.6"/><ellipse cx="671.8" cy="799.5" rx="0.85" ry="1.6"/><ellipse cx="675.4" cy="799.5" rx="0.85" ry="1.6"/><ellipse cx="679" cy="799.5" rx="0.85" ry="1.6"/><ellipse cx="682.7" cy="799.5" rx="0.85" ry="1.6"/><ellipse cx="686.3" cy="799.5" rx="0.85" ry="1.6"/><ellipse cx="689.9" cy="799.5" rx="0.85" ry="1.6"/><ellipse cx="693.6" cy="799.5" rx="0.85" ry="1.6"/><ellipse cx="697.2" cy="799.5" rx="0.85" ry="1.6"/><ellipse cx="700.8" cy="799.5" rx="0.85" ry="1.6"/><ellipse cx="704.5" cy="799.5" rx="0.85" ry="1.6"/><ellipse cx="708.1" cy="799.5" rx="0.85" ry="1.6"/><ellipse cx="711.7" cy="799.5" rx="0.85" ry="1.6"/><ellipse cx="715.4" cy="799.5" rx="0.85" ry="1.6"/><ellipse cx="719" cy="799.5" rx="0.85" ry="1.6"/><ellipse cx="722.6" cy="799.5" rx="0.85" ry="1.6"/><ellipse cx="726.3" cy="799.5" rx="0.85" ry="1.6"/><ellipse cx="729.9" cy="799.5" rx="0.85" ry="1.6"/><ellipse cx="733.5" cy="799.5" rx="0.85" ry="1.6"/><ellipse cx="737.2" cy="799.5" rx="0.85" ry="1.6"/><ellipse cx="740.8" cy="799.5" rx="0.85" ry="1.6"/><ellipse cx="744.5" cy="799.5" rx="0.85" ry="1.6"/><ellipse cx="748.1" cy="799.5" rx="0.85" ry="1.6"/><ellipse cx="751.7" cy="799.5" rx="0.85" ry="1.6"/><ellipse cx="755.4" cy="799.5" rx="0.85" ry="1.6"/><ellipse cx="759" cy="799.5" rx="0.85" ry="1.6"/><ellipse cx="762.6" cy="799.5" rx="0.85" ry="1.6"/></g>
<line x1="759.5" y1="664.8" x2="779.5" y2="664.8" stroke="#3366FF" stroke-width="1"/>
<path d="M769.5 662l2.8 2.8l-2.8 2.8l-2.8 -2.8z" fill="#3366FF" stroke="#3366FF" stroke-width="0.4"/>
<text transform="translate(783.5,668.6) scale(1,1.05)" font-size="12.35">Sunday</text>
<line x1="759.5" y1="683.6" x2="779.5" y2="683.6" stroke="#FF40FF" stroke-width="1"/>
<text transform="translate(783.5,687.5) scale(1,1.05)" font-size="12.35">Monday</text>
<line x1="759.5" y1="702.5" x2="779.5" y2="702.5" stroke="#FFFF00" stroke-width="1.52"/>
<text transform="translate(783.5,706.3) scale(1,1.05)" font-size="12.35">Tuesday</text>
<line x1="759.5" y1="721.3" x2="779.5" y2="721.3" stroke="#00FFFF" stroke-width="1.52"/>
<text transform="translate(783.5,725.2) scale(1,1.05)" font-size="12.35">Wednesday</text>
<line x1="759.5" y1="740.2" x2="779.5" y2="740.2" stroke="#8B1C8B" stroke-width="1"/>
<text transform="translate(783.5,744) scale(1,1.05)" font-size="12.35">Thursday</text>
<line x1="759.5" y1="759" x2="779.5" y2="759" stroke="#33FF33" stroke-width="1"/>
<text transform="translate(783.5,762.9) scale(1,1.05)" font-size="12.35">Friday</text>
<line x1="759.5" y1="777.9" x2="779.5" y2="777.9" stroke="#339999" stroke-width="1"/>
<path d="M769.5 775.1l2.8 2.8l-2.8 2.8l-2.8 -2.8z" fill="#fff" stroke="#FF1818" stroke-width="1.1"/>
<text transform="translate(783.5,781.7) scale(1,1.05)" font-size="12.35">Saturday</text>
<line x1="438" y1="658.1" x2="751" y2="658.1" stroke="#2B2BF2" stroke-width="4" stroke-dasharray="15.8 12.05"/>
<circle cx="638" cy="621.4" r="25.9" fill="none" stroke="#F0340F" stroke-width="3"/>
</g>
<g fill="#fff" stroke="#1B9AD6" stroke-width="2.4" stroke-linejoin="miter">
<path d="M1101.5 411V358H1085L1117 339.2L1149.2 358H1132.3V411"/>
<rect x="1053.8" y="411" width="126.6" height="61"/>
<path d="M1101.5 576.5V631.4H1085L1117 649.6L1149.2 631.4H1132.3V576.5"/>
<rect x="1053.8" y="515.4" width="126.6" height="61"/>
</g>
<text class="b" x="1117" y="454" text-anchor="middle" font-size="37.3" letter-spacing="0.4" style="fill:#1F4080">88%</text>
<text class="b" x="1117" y="558.4" text-anchor="middle" font-size="37.3" letter-spacing="0.4" style="fill:#1F4080">12%</text>
<rect x="72.6" y="620" width="229.5" height="81.2" fill="#fff" stroke="#15156E" stroke-width="1.6"/>
<text class="cj" x="85.2" y="653.9" font-size="27.9" font-weight="900" style="fill:#15156E">平均载荷决定了</text>
<text class="cj" x="85.2" y="687.5" font-size="27.9" font-weight="900" style="fill:#15156E">压缩机的能耗</text>
<rect x="891.5" y="673.4" width="241.2" height="81.2" fill="#fff" stroke="#FF0000" stroke-width="1.6"/>
<text class="cj" x="904.6" y="707.9" font-size="27.8" font-weight="900" style="fill:#FF0000">最大载荷决定了</text>
<text class="cj" x="904.6" y="740.3" font-size="27.8" font-weight="900" style="fill:#FF0000">压缩机的选型</text>
<g id="arrows">
<line x1="302.2" y1="619.5" x2="424" y2="285.1" stroke="#2222FF" stroke-width="1.7"/><polygon points="427.3,276.2 427.9,287.6 419.5,284.5" fill="#2222FF"/>
<line x1="302.2" y1="619.5" x2="701.7" y2="292.2" stroke="#2222FF" stroke-width="1.7"/><polygon points="709,286.2 703.7,296.3 698,289.4" fill="#2222FF"/>
<line x1="302.2" y1="619.5" x2="428.3" y2="653.1" stroke="#2222FF" stroke-width="1.7"/><polygon points="437.5,655.5 426.2,657.1 428.5,648.5" fill="#2222FF"/>
<line x1="891.5" y1="673" x2="414" y2="240.2" stroke="#FF0000" stroke-width="1.7"/><polygon points="407,233.8 417.8,237.5 411.8,244.2" fill="#FF0000"/>
<line x1="891.5" y1="673" x2="846.1" y2="274.4" stroke="#FF0000" stroke-width="1.7"/><polygon points="845,265 850.7,274.9 841.7,275.9" fill="#FF0000"/>
<line x1="891.5" y1="673" x2="676.8" y2="622.9" stroke="#FF0000" stroke-width="1.7"/><polygon points="667.5,620.7 678.7,618.7 676.7,627.5" fill="#FF0000"/>
</g>
<g id="logo"><g fill="#F4D81C" stroke="#A4860F" stroke-width="0.55"><ellipse cx="1080.1" cy="762.7" rx="4.6" ry="1.45" transform="rotate(-5 1080.1 762.7)"/><ellipse cx="1082.1" cy="765.9" rx="4.6" ry="1.45" transform="rotate(-61 1082.1 765.9)"/><ellipse cx="1075.1" cy="766.8" rx="4.6" ry="1.45" transform="rotate(-17 1075.1 766.8)"/><ellipse cx="1077.7" cy="769.4" rx="4.6" ry="1.45" transform="rotate(-73 1077.7 769.4)"/><ellipse cx="1071" cy="771.8" rx="4.6" ry="1.45" transform="rotate(-29 1071 771.8)"/><ellipse cx="1074.2" cy="773.8" rx="4.6" ry="1.45" transform="rotate(-85 1074.2 773.8)"/><ellipse cx="1068.1" cy="777.5" rx="4.6" ry="1.45" transform="rotate(-41 1068.1 777.5)"/><ellipse cx="1071.6" cy="778.9" rx="4.6" ry="1.45" transform="rotate(-97 1071.6 778.9)"/><ellipse cx="1066.4" cy="783.8" rx="4.6" ry="1.45" transform="rotate(-53 1066.4 783.8)"/><ellipse cx="1070.1" cy="784.4" rx="4.6" ry="1.45" transform="rotate(-109 1070.1 784.4)"/><ellipse cx="1066" cy="790.2" rx="4.6" ry="1.45" transform="rotate(-65 1066 790.2)"/><ellipse cx="1069.8" cy="790" rx="4.6" ry="1.45" transform="rotate(-121 1069.8 790)"/><ellipse cx="1067.1" cy="796.6" rx="4.6" ry="1.45" transform="rotate(-77 1067.1 796.6)"/><ellipse cx="1070.7" cy="795.6" rx="4.6" ry="1.45" transform="rotate(-133 1070.7 795.6)"/><ellipse cx="1069.4" cy="802.6" rx="4.6" ry="1.45" transform="rotate(-89 1069.4 802.6)"/><ellipse cx="1072.8" cy="800.9" rx="4.6" ry="1.45" transform="rotate(-145 1072.8 800.9)"/><ellipse cx="1072.9" cy="808" rx="4.6" ry="1.45" transform="rotate(-101 1072.9 808)"/><ellipse cx="1075.8" cy="805.7" rx="4.6" ry="1.45" transform="rotate(-157 1075.8 805.7)"/><ellipse cx="1077.5" cy="812.6" rx="4.6" ry="1.45" transform="rotate(-113 1077.5 812.6)"/><ellipse cx="1079.8" cy="809.7" rx="4.6" ry="1.45" transform="rotate(-169 1079.8 809.7)"/><ellipse cx="1082.9" cy="816.1" rx="4.6" ry="1.45" transform="rotate(-125 1082.9 816.1)"/><ellipse cx="1084.6" cy="812.7" rx="4.6" ry="1.45" transform="rotate(-181 1084.6 812.7)"/><ellipse cx="1113.7" cy="762.7" rx="4.6" ry="1.45" transform="rotate(-175 1113.7 762.7)"/><ellipse cx="1111.7" cy="765.9" rx="4.6" ry="1.45" transform="rotate(-119 1111.7 765.9)"/><ellipse cx="1118.7" cy="766.8" rx="4.6" ry="1.45" transform="rotate(-163 1118.7 766.8)"/><ellipse cx="1116.1" cy="769.4" rx="4.6" ry="1.45" transform="rotate(-107 1116.1 769.4)"/><ellipse cx="1122.8" cy="771.8" rx="4.6" ry="1.45" transform="rotate(-151 1122.8 771.8)"/><ellipse cx="1119.6" cy="773.8" rx="4.6" ry="1.45" transform="rotate(-95 1119.6 773.8)"/><ellipse cx="1125.7" cy="777.5" rx="4.6" ry="1.45" transform="rotate(-139 1125.7 777.5)"/><ellipse cx="1122.2" cy="778.9" rx="4.6" ry="1.45" transform="rotate(-83 1122.2 778.9)"/><ellipse cx="1127.4" cy="783.8" rx="4.6" ry="1.45" transform="rotate(-127 1127.4 783.8)"/><ellipse cx="1123.7" cy="784.4" rx="4.6" ry="1.45" transform="rotate(-71 1123.7 784.4)"/><ellipse cx="1127.8" cy="790.2" rx="4.6" ry="1.45" transform="rotate(-115 1127.8 790.2)"/><ellipse cx="1124" cy="790" rx="4.6" ry="1.45" transform="rotate(-59 1124 790)"/><ellipse cx="1126.7" cy="796.6" rx="4.6" ry="1.45" transform="rotate(-103 1126.7 796.6)"/><ellipse cx="1123.1" cy="795.6" rx="4.6" ry="1.45" transform="rotate(-47 1123.1 795.6)"/><ellipse cx="1124.4" cy="802.6" rx="4.6" ry="1.45" transform="rotate(-91 1124.4 802.6)"/><ellipse cx="1121" cy="800.9" rx="4.6" ry="1.45" transform="rotate(-35 1121 800.9)"/><ellipse cx="1120.9" cy="808" rx="4.6" ry="1.45" transform="rotate(-79 1120.9 808)"/><ellipse cx="1118" cy="805.7" rx="4.6" ry="1.45" transform="rotate(-23 1118 805.7)"/><ellipse cx="1116.3" cy="812.6" rx="4.6" ry="1.45" transform="rotate(-67 1116.3 812.6)"/><ellipse cx="1114" cy="809.7" rx="4.6" ry="1.45" transform="rotate(-11 1114 809.7)"/><ellipse cx="1110.9" cy="816.1" rx="4.6" ry="1.45" transform="rotate(-55 1110.9 816.1)"/><ellipse cx="1109.2" cy="812.7" rx="4.6" ry="1.45" transform="rotate(1 1109.2 812.7)"/>
<ellipse cx="1096.6" cy="817.6" rx="10.5" ry="1.3" transform="rotate(-20 1096.6 817.6)"/>
<ellipse cx="1096.6" cy="817.6" rx="10.5" ry="1.3" transform="rotate(20 1096.6 817.6)"/>
</g>
<g fill="#154FA6">
<rect x="1080.9" y="769.2" width="5.6" height="29.7"/>
<rect x="1092" y="762.4" width="6.2" height="41.4"/>
<rect x="1104.4" y="768.6" width="6.2" height="31"/>
<path d="M1110.4 769.6L1116.4 774.8L1110.4 776.8z"/>
<path d="M1096.3 779.6a9.6 10 0 1 0 0.01 0zM1096.3 783.4a4.4 6.2 0 1 1 -0.01 0z" fill-rule="evenodd"/>
<rect x="1080.9" y="794.6" width="9" height="4.3"/>
<rect x="1090.8" y="798.6" width="13.8" height="5.2"/>
<ellipse cx="1094.2" cy="789.6" rx="3.6" ry="6" fill="#fff"/>
<path d="M1110.6 794c2 2.6 2.6 2.4 3.4 1.6c-1 4-5 5.6-9.6 5.4v-3.4z"/>
</g></g>
<text x="1047" y="846" font-size="26" font-style="italic" textLength="92" lengthAdjust="spacingAndGlyphs" style="font-family:Felipa,'Liberation Serif',serif;fill:#154FA6;stroke:#154FA6;stroke-width:0.35px">Bolaite</text>
<text x="16" y="847.2" font-size="18.5" style="fill:#0B50A8">6</text>
</svg></body></html>
